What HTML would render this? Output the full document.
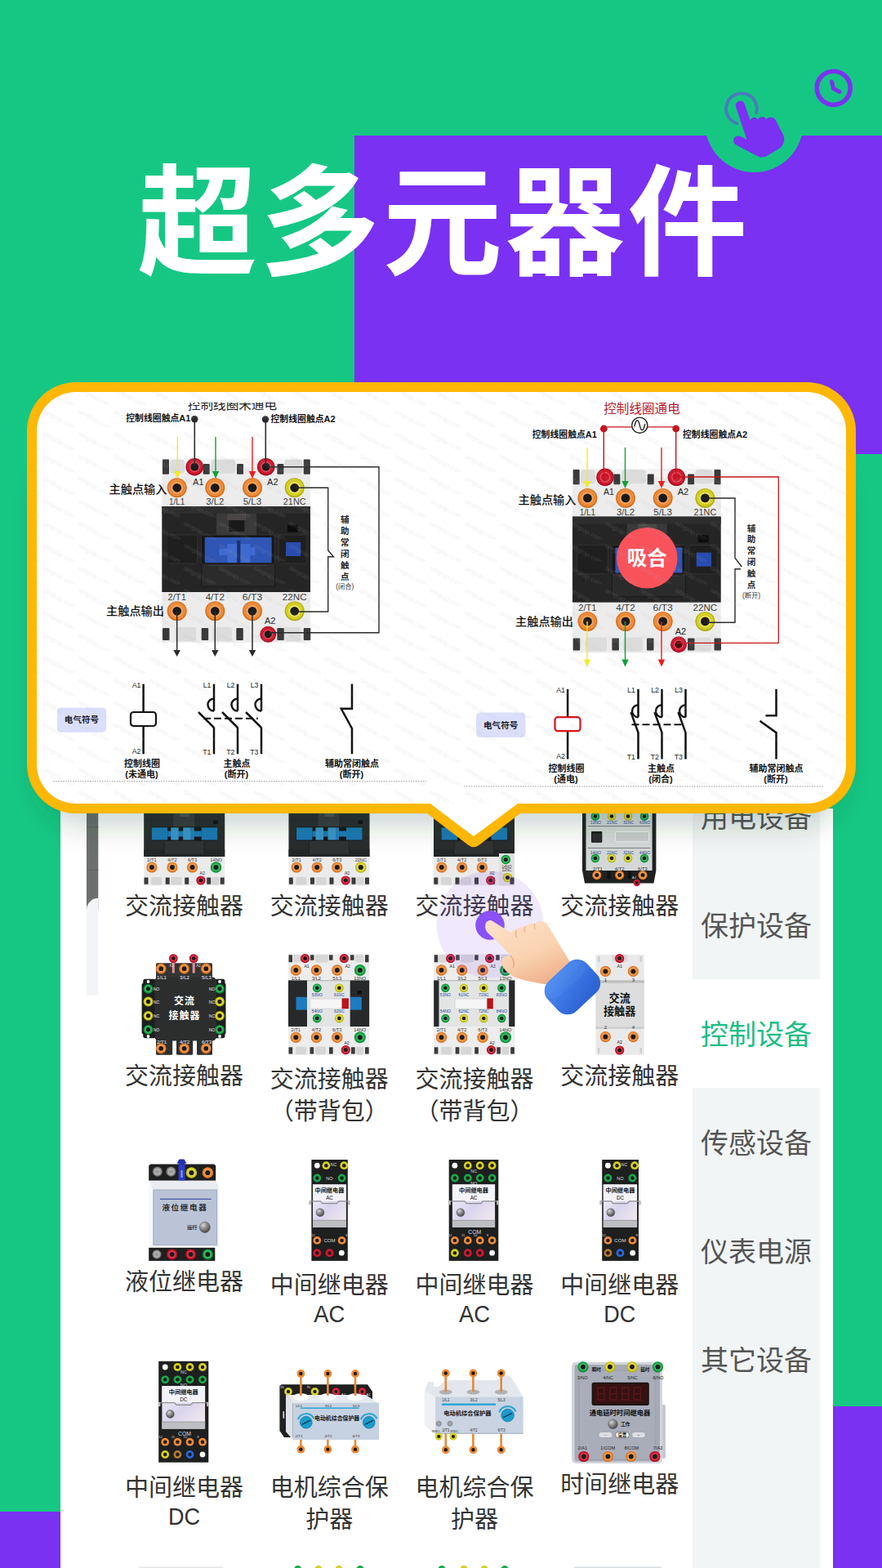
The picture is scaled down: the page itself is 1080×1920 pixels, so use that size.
<!DOCTYPE html>
<html lang="zh"><head><meta charset="utf-8"><title>超多元器件</title>
<style>
html,body{margin:0;padding:0;background:#16C784;}
body{width:1080px;height:1920px;overflow:hidden;font-family:"Liberation Sans","Noto Sans CJK SC",sans-serif;}
svg{display:block}
svg text{font-family:"Liberation Sans","Noto Sans CJK SC",sans-serif;}
</style></head><body>
<svg width="1080" height="1920" viewBox="0 0 1080 1920">
<defs>

<radialGradient id="gball" cx="0.35" cy="0.3" r="0.8"><stop offset="0" stop-color="#d8d8d8"/><stop offset="0.45" stop-color="#8a8a8a"/><stop offset="1" stop-color="#3c3c3c"/></radialGradient>
<linearGradient id="grelay" x1="0" y1="0" x2="1" y2="1"><stop offset="0" stop-color="#f7f6fb"/><stop offset="0.5" stop-color="#d9d4ee"/><stop offset="1" stop-color="#f6eeee"/></linearGradient>
<linearGradient id="gcuff" x1="0" y1="0" x2="0.3" y2="1"><stop offset="0" stop-color="#5590F2"/><stop offset="0.5" stop-color="#3D79E6"/><stop offset="1" stop-color="#2F64D4"/></linearGradient>
<linearGradient id="gskin" x1="0.2" y1="0" x2="0.75" y2="1"><stop offset="0" stop-color="#FDE0C8"/><stop offset="0.55" stop-color="#FAD2B0"/><stop offset="1" stop-color="#EDAE86"/></linearGradient>
<filter id="fblur" x="-10%" y="-20%" width="120%" height="150%"><feGaussianBlur stdDeviation="17"/></filter>
<pattern id="wm" width="43" height="27.4" patternUnits="userSpaceOnUse" patternTransform="translate(8 3)"><text x="1" y="9" font-size="7.6" font-style="italic" fill="#B0B0B0" fill-opacity="0.2" transform="rotate(28 1 9)">simgrap.com</text></pattern>
</defs>
<rect width="1080" height="1920" fill="#16C784"/>
<rect x="434" y="166" width="646" height="390" fill="#7A31F2"/>
<rect x="1020" y="1722" width="60" height="198" fill="#7A31F2"/>
<rect x="0" y="1851" width="75" height="69" fill="#7A31F2"/>
<circle cx="923.5" cy="151" r="60" fill="#16C784"/>
<circle cx="1020.7" cy="107.8" r="20.5" fill="none" stroke="#7A31F2" stroke-width="5.6"/>
<path d="M1018.5 100 L1020.5 108.5 L1028 112.5" fill="none" stroke="#7A31F2" stroke-width="5" stroke-linecap="round" stroke-linejoin="round"/>
<path d="M902.2 151.1 A18.9 18.9 0 1 1 926.2 138.2" fill="none" stroke="#7A31F2" stroke-opacity="0.5" stroke-width="4" stroke-linecap="round"/>
<path d="M900.9 130.5 A5.7 5.7 0 0 1 911.8 127.2 L918.6 147.5 C919.5 143.5 925.5 142 928 146.5 C929.5 142.5 936 141.5 938.5 146 C940.5 142.5 947.5 142.5 950 147.5 L959.5 166 C961.5 172 959.5 178 954 182 L938 191.5 C934 193 931 193 927 191 L901.5 177.5 C897.5 175.5 897 170 900.5 167.5 C903 165.5 906.5 166.5 909 168 L914.5 171 Z" fill="#7A31F2"/>
<text x="168.2" y="324.6" font-size="146.5" font-weight="bold" letter-spacing="3.6" fill="#fff">超多元器件</text>
<rect x="74" y="990" width="946" height="930" fill="#fff"/>
<rect x="848" y="990" width="156" height="930" fill="#F2F5F5"/>
<rect x="848" y="1199" width="156" height="133" fill="#fff"/>
<rect x="106" y="990" width="14.3" height="124" fill="#6B6F6E"/>
<rect x="106" y="1012" width="14.3" height="1" fill="#5d6160"/><rect x="106" y="1065" width="14.3" height="1" fill="#5d6160"/>
<path d="M106 1218.5 V1114 A14.3 14.3 0 0 1 120.3 1099.7 V1218.5 Z" fill="#F1F5F7"/>
<text x="858" y="1013" font-size="34" fill="#555">用电设备</text>
<text x="858" y="1146" font-size="34" fill="#555">保护设备</text>
<text x="858" y="1279" font-size="34" fill="#1CBD84">控制设备</text>
<text x="858" y="1412" font-size="34" fill="#555">传感设备</text>
<text x="858" y="1545" font-size="34" fill="#555">仪表电源</text>
<text x="858" y="1678" font-size="34" fill="#555">其它设备</text>
<rect x="176.2" y="990.0" width="99.0" height="94.3" fill="#EBEBEB" /><rect x="176.2" y="990.0" width="99.0" height="59.0" fill="#2A2D2D" /><rect x="176.2" y="1040.0" width="99.0" height="9.0" fill="#232626" /><rect x="185.2" y="1012.5" width="81.0" height="17.0" fill="#161819" /><rect x="185.7" y="1013.3" width="19.5" height="15.2" fill="#1C7AB6" /><rect x="246.7" y="1013.3" width="19.5" height="15.2" fill="#1C7AB6" /><rect x="205.2" y="1017.5" width="41.5" height="7.0" fill="#1C7AB6" /><rect x="209.2" y="1013.3" width="9.5" height="15.2" fill="#3C95CC" /><rect x="224.2" y="1013.3" width="9.5" height="15.2" fill="#3C95CC" /><rect x="233.7" y="1013.3" width="4.0" height="15.2" fill="#2180BC" /><rect x="212.2" y="990.0" width="26.0" height="22.0" fill="#3A3D3D" /><rect x="220.2" y="996.0" width="12.0" height="4.0" fill="#505353" /><rect x="261.2" y="1004.5" width="5.5" height="4.5" fill="#111" /><rect x="201.2" y="1029.5" width="49.0" height="17.0" fill="#303333" rx="1.5" stroke="#1c1e1e" stroke-width="0.8"/><circle cx="185.9" cy="1062.0" r="6.6" fill="#D66F1C"/><circle cx="185.9" cy="1061.7" r="5.8" fill="#EC8A38"/><circle cx="185.9" cy="1062.0" r="4.0" fill="#F4A560"/><circle cx="185.9" cy="1062.0" r="3.0" fill="#1d1a1a"/><circle cx="210.9" cy="1062.0" r="6.6" fill="#D66F1C"/><circle cx="210.9" cy="1061.7" r="5.8" fill="#EC8A38"/><circle cx="210.9" cy="1062.0" r="4.0" fill="#F4A560"/><circle cx="210.9" cy="1062.0" r="3.0" fill="#1d1a1a"/><circle cx="235.5" cy="1062.0" r="6.6" fill="#D66F1C"/><circle cx="235.5" cy="1061.7" r="5.8" fill="#EC8A38"/><circle cx="235.5" cy="1062.0" r="4.0" fill="#F4A560"/><circle cx="235.5" cy="1062.0" r="3.0" fill="#1d1a1a"/><circle cx="264.5" cy="1062.0" r="6.8" fill="#0C8432"/><circle cx="264.5" cy="1061.7" r="6.0" fill="#1AA848"/><circle cx="264.5" cy="1062.0" r="4.1" fill="#4CC876"/><circle cx="264.5" cy="1062.0" r="3.1" fill="#1d1a1a"/><text x="264.5" y="1055.3" font-size="5.6" fill="#333" text-anchor="middle" >14NO</text><text x="185.9" y="1055.3" font-size="5.6" fill="#333" text-anchor="middle" >2/T1</text><text x="210.9" y="1055.3" font-size="5.6" fill="#333" text-anchor="middle" >4/T2</text><text x="235.5" y="1055.3" font-size="5.6" fill="#333" text-anchor="middle" >6/T3</text><rect x="176.5" y="1074.5" width="5.0" height="8.3" fill="#3A3A3A" rx="0.5" /><rect x="202.7" y="1074.5" width="5.0" height="8.3" fill="#3A3A3A" rx="0.5" /><rect x="226.2" y="1074.5" width="5.0" height="8.3" fill="#3A3A3A" rx="0.5" /><rect x="253.2" y="1074.5" width="5.0" height="8.3" fill="#3A3A3A" rx="0.5" /><rect x="269.7" y="1074.5" width="5.0" height="8.3" fill="#3A3A3A" rx="0.5" /><rect x="185.2" y="1074.0" width="13.0" height="9.5" fill="#D6D6D6" rx="1.5" /><rect x="209.2" y="1074.0" width="13.0" height="9.5" fill="#D6D6D6" rx="1.5" /><rect x="259.2" y="1074.0" width="9.0" height="9.5" fill="#D6D6D6" rx="1.5" /><circle cx="245.9" cy="1078.0" r="5.6" fill="#A80C20"/><circle cx="245.9" cy="1077.8" r="4.9" fill="#CF1A30"/><circle cx="245.9" cy="1078.0" r="3.4" fill="#E04A5C"/><circle cx="245.9" cy="1078.0" r="2.5" fill="#1d1a1a"/><text x="247.7" y="1071.2" font-size="5.1" fill="#222" text-anchor="middle" >A2</text><rect x="353.5" y="990.0" width="99.0" height="94.3" fill="#EBEBEB" /><rect x="353.5" y="990.0" width="99.0" height="59.0" fill="#2A2D2D" /><rect x="353.5" y="1040.0" width="99.0" height="9.0" fill="#232626" /><rect x="362.5" y="1012.5" width="81.0" height="17.0" fill="#161819" /><rect x="363.0" y="1013.3" width="19.5" height="15.2" fill="#1C7AB6" /><rect x="424.0" y="1013.3" width="19.5" height="15.2" fill="#1C7AB6" /><rect x="382.5" y="1017.5" width="41.5" height="7.0" fill="#1C7AB6" /><rect x="386.5" y="1013.3" width="9.5" height="15.2" fill="#3C95CC" /><rect x="401.5" y="1013.3" width="9.5" height="15.2" fill="#3C95CC" /><rect x="411.0" y="1013.3" width="4.0" height="15.2" fill="#2180BC" /><rect x="389.5" y="990.0" width="26.0" height="22.0" fill="#3A3D3D" /><rect x="397.5" y="996.0" width="12.0" height="4.0" fill="#505353" /><rect x="438.5" y="1004.5" width="5.5" height="4.5" fill="#111" /><rect x="378.5" y="1029.5" width="49.0" height="17.0" fill="#303333" rx="1.5" stroke="#1c1e1e" stroke-width="0.8"/><circle cx="363.2" cy="1062.0" r="6.6" fill="#D66F1C"/><circle cx="363.2" cy="1061.7" r="5.8" fill="#EC8A38"/><circle cx="363.2" cy="1062.0" r="4.0" fill="#F4A560"/><circle cx="363.2" cy="1062.0" r="3.0" fill="#1d1a1a"/><circle cx="388.2" cy="1062.0" r="6.6" fill="#D66F1C"/><circle cx="388.2" cy="1061.7" r="5.8" fill="#EC8A38"/><circle cx="388.2" cy="1062.0" r="4.0" fill="#F4A560"/><circle cx="388.2" cy="1062.0" r="3.0" fill="#1d1a1a"/><circle cx="412.8" cy="1062.0" r="6.6" fill="#D66F1C"/><circle cx="412.8" cy="1061.7" r="5.8" fill="#EC8A38"/><circle cx="412.8" cy="1062.0" r="4.0" fill="#F4A560"/><circle cx="412.8" cy="1062.0" r="3.0" fill="#1d1a1a"/><circle cx="441.8" cy="1062.0" r="6.8" fill="#B3AE10"/><circle cx="441.8" cy="1061.7" r="6.0" fill="#D4CF22"/><circle cx="441.8" cy="1062.0" r="4.1" fill="#E9E562"/><circle cx="441.8" cy="1062.0" r="3.1" fill="#1d1a1a"/><text x="441.8" y="1055.3" font-size="5.6" fill="#333" text-anchor="middle" >22NC</text><text x="363.2" y="1055.3" font-size="5.6" fill="#333" text-anchor="middle" >2/T1</text><text x="388.2" y="1055.3" font-size="5.6" fill="#333" text-anchor="middle" >4/T2</text><text x="412.8" y="1055.3" font-size="5.6" fill="#333" text-anchor="middle" >6/T3</text><rect x="353.8" y="1074.5" width="5.0" height="8.3" fill="#3A3A3A" rx="0.5" /><rect x="380.0" y="1074.5" width="5.0" height="8.3" fill="#3A3A3A" rx="0.5" /><rect x="403.5" y="1074.5" width="5.0" height="8.3" fill="#3A3A3A" rx="0.5" /><rect x="430.5" y="1074.5" width="5.0" height="8.3" fill="#3A3A3A" rx="0.5" /><rect x="447.0" y="1074.5" width="5.0" height="8.3" fill="#3A3A3A" rx="0.5" /><rect x="362.5" y="1074.0" width="13.0" height="9.5" fill="#D6D6D6" rx="1.5" /><rect x="386.5" y="1074.0" width="13.0" height="9.5" fill="#D6D6D6" rx="1.5" /><rect x="436.5" y="1074.0" width="9.0" height="9.5" fill="#D6D6D6" rx="1.5" /><circle cx="423.2" cy="1078.0" r="5.6" fill="#A80C20"/><circle cx="423.2" cy="1077.8" r="4.9" fill="#CF1A30"/><circle cx="423.2" cy="1078.0" r="3.4" fill="#E04A5C"/><circle cx="423.2" cy="1078.0" r="2.5" fill="#1d1a1a"/><text x="425.0" y="1071.2" font-size="5.1" fill="#222" text-anchor="middle" >A2</text><rect x="531.0" y="990.0" width="99.0" height="94.3" fill="#EBEBEB" /><rect x="531.0" y="990.0" width="99.0" height="59.0" fill="#2A2D2D" /><rect x="531.0" y="1040.0" width="99.0" height="9.0" fill="#232626" /><rect x="540.0" y="1012.5" width="81.0" height="17.0" fill="#161819" /><rect x="540.5" y="1013.3" width="19.5" height="15.2" fill="#1C7AB6" /><rect x="601.5" y="1013.3" width="19.5" height="15.2" fill="#1C7AB6" /><rect x="560.0" y="1017.5" width="41.5" height="7.0" fill="#1C7AB6" /><rect x="564.0" y="1013.3" width="9.5" height="15.2" fill="#3C95CC" /><rect x="579.0" y="1013.3" width="9.5" height="15.2" fill="#3C95CC" /><rect x="588.5" y="1013.3" width="4.0" height="15.2" fill="#2180BC" /><rect x="567.0" y="990.0" width="26.0" height="22.0" fill="#3A3D3D" /><rect x="575.0" y="996.0" width="12.0" height="4.0" fill="#505353" /><rect x="616.0" y="1004.5" width="5.5" height="4.5" fill="#111" /><rect x="556.0" y="1029.5" width="49.0" height="17.0" fill="#303333" rx="1.5" stroke="#1c1e1e" stroke-width="0.8"/><rect x="611.0" y="1045.0" width="19.0" height="39.3" fill="#E0E0E0" /><circle cx="540.7" cy="1062.0" r="6.6" fill="#D66F1C"/><circle cx="540.7" cy="1061.7" r="5.8" fill="#EC8A38"/><circle cx="540.7" cy="1062.0" r="4.0" fill="#F4A560"/><circle cx="540.7" cy="1062.0" r="3.0" fill="#1d1a1a"/><circle cx="565.7" cy="1062.0" r="6.6" fill="#D66F1C"/><circle cx="565.7" cy="1061.7" r="5.8" fill="#EC8A38"/><circle cx="565.7" cy="1062.0" r="4.0" fill="#F4A560"/><circle cx="565.7" cy="1062.0" r="3.0" fill="#1d1a1a"/><circle cx="590.3" cy="1062.0" r="6.6" fill="#D66F1C"/><circle cx="590.3" cy="1061.7" r="5.8" fill="#EC8A38"/><circle cx="590.3" cy="1062.0" r="4.0" fill="#F4A560"/><circle cx="590.3" cy="1062.0" r="3.0" fill="#1d1a1a"/><circle cx="619.3" cy="1052.5" r="5.8" fill="#0C8432"/><circle cx="619.3" cy="1052.3" r="5.1" fill="#1AA848"/><circle cx="619.3" cy="1052.5" r="3.5" fill="#4CC876"/><circle cx="619.3" cy="1052.5" r="2.6" fill="#1d1a1a"/><circle cx="621.5" cy="1074.5" r="5.8" fill="#B3AE10"/><circle cx="621.5" cy="1074.3" r="5.1" fill="#D4CF22"/><circle cx="621.5" cy="1074.5" r="3.5" fill="#E9E562"/><circle cx="621.5" cy="1074.5" r="2.6" fill="#1d1a1a"/><text x="620.5" y="1062.9" font-size="4.6" fill="#333" text-anchor="middle" >14NO</text><text x="620.5" y="1067.4" font-size="4.6" fill="#333" text-anchor="middle" >22NC</text><text x="540.7" y="1055.3" font-size="5.6" fill="#333" text-anchor="middle" >2/T1</text><text x="565.7" y="1055.3" font-size="5.6" fill="#333" text-anchor="middle" >4/T2</text><text x="590.3" y="1055.3" font-size="5.6" fill="#333" text-anchor="middle" >6/T3</text><rect x="531.3" y="1074.5" width="5.0" height="8.3" fill="#3A3A3A" rx="0.5" /><rect x="557.5" y="1074.5" width="5.0" height="8.3" fill="#3A3A3A" rx="0.5" /><rect x="581.0" y="1074.5" width="5.0" height="8.3" fill="#3A3A3A" rx="0.5" /><rect x="601.0" y="1074.5" width="5.0" height="8.3" fill="#3A3A3A" rx="0.5" /><rect x="624.5" y="1074.5" width="5.0" height="8.3" fill="#3A3A3A" rx="0.5" /><rect x="540.0" y="1074.0" width="13.0" height="9.5" fill="#D6D6D6" rx="1.5" /><rect x="564.0" y="1074.0" width="13.0" height="9.5" fill="#D6D6D6" rx="1.5" /><circle cx="600.7" cy="1078.0" r="5.6" fill="#A80C20"/><circle cx="600.7" cy="1077.8" r="4.9" fill="#CF1A30"/><circle cx="600.7" cy="1078.0" r="3.4" fill="#E04A5C"/><circle cx="600.7" cy="1078.0" r="2.5" fill="#1d1a1a"/><text x="602.5" y="1071.2" font-size="5.1" fill="#222" text-anchor="middle" >A2</text><path d="M713 990 H803.4 V1066 L800.5 1081.6 H716 L713 1066 Z" fill="#1f2121"/><rect x="717.5" y="990.0" width="81.1" height="76.0" fill="#D3D7D7" /><line x1="720.0" y1="1011.6" x2="796.5" y2="1011.6" stroke="#6d7272" stroke-width="0.90" /><line x1="720.0" y1="1038.4" x2="796.5" y2="1038.4" stroke="#6d7272" stroke-width="0.90" /><circle cx="728.9" cy="999.6" r="5.3" fill="#0C8432"/><circle cx="728.9" cy="999.4" r="4.7" fill="#1AA848"/><circle cx="728.9" cy="999.6" r="3.2" fill="#4CC876"/><circle cx="728.9" cy="999.6" r="2.4" fill="#1d1a1a"/><circle cx="728.9" cy="1050.9" r="5.3" fill="#0C8432"/><circle cx="728.9" cy="1050.7" r="4.7" fill="#1AA848"/><circle cx="728.9" cy="1050.9" r="3.2" fill="#4CC876"/><circle cx="728.9" cy="1050.9" r="2.4" fill="#1d1a1a"/><circle cx="749.0" cy="999.6" r="5.3" fill="#B3AE10"/><circle cx="749.0" cy="999.4" r="4.7" fill="#D4CF22"/><circle cx="749.0" cy="999.6" r="3.2" fill="#E9E562"/><circle cx="749.0" cy="999.6" r="2.4" fill="#1d1a1a"/><circle cx="749.0" cy="1050.9" r="5.3" fill="#B3AE10"/><circle cx="749.0" cy="1050.7" r="4.7" fill="#D4CF22"/><circle cx="749.0" cy="1050.9" r="3.2" fill="#E9E562"/><circle cx="749.0" cy="1050.9" r="2.4" fill="#1d1a1a"/><circle cx="769.0" cy="999.6" r="5.3" fill="#B3AE10"/><circle cx="769.0" cy="999.4" r="4.7" fill="#D4CF22"/><circle cx="769.0" cy="999.6" r="3.2" fill="#E9E562"/><circle cx="769.0" cy="999.6" r="2.4" fill="#1d1a1a"/><circle cx="769.0" cy="1050.9" r="5.3" fill="#B3AE10"/><circle cx="769.0" cy="1050.7" r="4.7" fill="#D4CF22"/><circle cx="769.0" cy="1050.9" r="3.2" fill="#E9E562"/><circle cx="769.0" cy="1050.9" r="2.4" fill="#1d1a1a"/><circle cx="789.0" cy="999.6" r="5.3" fill="#0C8432"/><circle cx="789.0" cy="999.4" r="4.7" fill="#1AA848"/><circle cx="789.0" cy="999.6" r="3.2" fill="#4CC876"/><circle cx="789.0" cy="999.6" r="2.4" fill="#1d1a1a"/><circle cx="789.0" cy="1050.9" r="5.3" fill="#0C8432"/><circle cx="789.0" cy="1050.7" r="4.7" fill="#1AA848"/><circle cx="789.0" cy="1050.9" r="3.2" fill="#4CC876"/><circle cx="789.0" cy="1050.9" r="2.4" fill="#1d1a1a"/><text x="729.4" y="1009.1" font-size="5.1" fill="#2A4E8F" text-anchor="middle" >13NO</text><text x="729.4" y="1046.0" font-size="5.1" fill="#2A4E8F" text-anchor="middle" >14NO</text><text x="749.5" y="1009.1" font-size="5.1" fill="#2A4E8F" text-anchor="middle" >21NC</text><text x="749.5" y="1046.0" font-size="5.1" fill="#2A4E8F" text-anchor="middle" >22NC</text><text x="769.5" y="1009.1" font-size="5.1" fill="#2A4E8F" text-anchor="middle" >31NC</text><text x="769.5" y="1046.0" font-size="5.1" fill="#2A4E8F" text-anchor="middle" >32NC</text><text x="789.5" y="1009.1" font-size="5.1" fill="#2A4E8F" text-anchor="middle" >43NO</text><text x="789.5" y="1046.0" font-size="5.1" fill="#2A4E8F" text-anchor="middle" >44NO</text><rect x="724.0" y="1018.0" width="13.3" height="13.7" fill="#1b1b1b" rx="1.2" /><rect x="725.2" y="1021.0" width="11.0" height="9.5" fill="#2e2e2e" rx="0.8" /><rect x="753.5" y="1018.4" width="41.2" height="12.0" fill="#C6CBCA" rx="1.0" stroke="#eef0f0" stroke-width="1"/><text x="732.0" y="1065.8" font-size="5.9" fill="#333" text-anchor="middle" >2/T1</text><text x="758.7" y="1065.8" font-size="5.9" fill="#333" text-anchor="middle" >4/T2</text><text x="787.0" y="1065.8" font-size="5.9" fill="#333" text-anchor="middle" >6/T3</text><rect x="743.5" y="1067.0" width="4.0" height="9.0" fill="#111" /><rect x="769.0" y="1067.0" width="4.0" height="9.0" fill="#111" /><circle cx="730.8" cy="1071.6" r="5.6" fill="#D66F1C"/><circle cx="730.8" cy="1071.4" r="4.9" fill="#EC8A38"/><circle cx="730.8" cy="1071.6" r="3.4" fill="#F4A560"/><circle cx="730.8" cy="1071.6" r="2.5" fill="#1d1a1a"/><circle cx="758.7" cy="1071.6" r="5.6" fill="#D66F1C"/><circle cx="758.7" cy="1071.4" r="4.9" fill="#EC8A38"/><circle cx="758.7" cy="1071.6" r="3.4" fill="#F4A560"/><circle cx="758.7" cy="1071.6" r="2.5" fill="#1d1a1a"/><circle cx="787.0" cy="1071.6" r="5.6" fill="#D66F1C"/><circle cx="787.0" cy="1071.4" r="4.9" fill="#EC8A38"/><circle cx="787.0" cy="1071.6" r="3.4" fill="#F4A560"/><circle cx="787.0" cy="1071.6" r="2.5" fill="#1d1a1a"/><text x="776.5" y="1075.9" font-size="4.4" fill="#ccc" text-anchor="middle" >A2</text><circle cx="779.8" cy="1081.0" r="4.2" fill="#CF1A30"/><circle cx="779.8" cy="1081.0" r="1.9" fill="#1d1a1a"/>
<text x="153" y="1120" font-size="29" fill="#333">交流接触器</text>
<text x="330.8" y="1120" font-size="29" fill="#333">交流接触器</text>
<text x="508.5" y="1120" font-size="29" fill="#333">交流接触器</text>
<text x="686.2" y="1120" font-size="29" fill="#333">交流接触器</text>
<rect x="191.0" y="1179.3" width="69.0" height="20.0" fill="#333535" rx="1.5" /><rect x="210.8" y="1176.0" width="3.0" height="15.5" fill="#E58E95" /><rect x="235.7" y="1176.0" width="3.0" height="15.5" fill="#E58E95" /><rect x="191.0" y="1272.0" width="20.2" height="19.7" fill="#2e3030" rx="1.5" /><rect x="216.0" y="1272.0" width="20.2" height="19.7" fill="#2e3030" rx="1.5" /><rect x="241.0" y="1272.0" width="19.0" height="19.7" fill="#2e3030" rx="1.5" /><rect x="175.2" y="1198.8" width="16.0" height="72.5" fill="#1d1f1f" rx="3.0" /><rect x="263.0" y="1198.8" width="12.5" height="72.5" fill="#1d1f1f" rx="3.0" /><rect x="272.5" y="1204.0" width="4.0" height="62.0" fill="#1d1f1f" rx="1.5" /><rect x="173.6" y="1204.0" width="4.0" height="62.0" fill="#1d1f1f" rx="1.5" /><rect x="189.4" y="1196.6" width="75.6" height="77.8" fill="#2C2E2E" rx="5.0" /><circle cx="181.5" cy="1202.0" r="1.9" fill="#fff"/><circle cx="181.5" cy="1269.0" r="1.9" fill="#fff"/><circle cx="269.0" cy="1202.0" r="1.9" fill="#fff"/><circle cx="269.0" cy="1269.0" r="1.9" fill="#fff"/><circle cx="181.5" cy="1210.8" r="5.9" fill="#0C8432"/><circle cx="181.5" cy="1210.6" r="5.2" fill="#1AA848"/><circle cx="181.5" cy="1210.8" r="3.5" fill="#4CC876"/><circle cx="181.5" cy="1210.8" r="2.7" fill="#1d1a1a"/><circle cx="269.0" cy="1210.8" r="5.9" fill="#0C8432"/><circle cx="269.0" cy="1210.6" r="5.2" fill="#1AA848"/><circle cx="269.0" cy="1210.8" r="3.5" fill="#4CC876"/><circle cx="269.0" cy="1210.8" r="2.7" fill="#1d1a1a"/><text x="191.5" y="1212.8" font-size="5.1" fill="#eee" text-anchor="middle" >NO</text><text x="259.5" y="1212.8" font-size="5.1" fill="#eee" text-anchor="middle" >NO</text><circle cx="181.5" cy="1226.5" r="5.9" fill="#B3AE10"/><circle cx="181.5" cy="1226.3" r="5.2" fill="#D4CF22"/><circle cx="181.5" cy="1226.5" r="3.5" fill="#E9E562"/><circle cx="181.5" cy="1226.5" r="2.7" fill="#1d1a1a"/><circle cx="269.0" cy="1226.5" r="5.9" fill="#B3AE10"/><circle cx="269.0" cy="1226.3" r="5.2" fill="#D4CF22"/><circle cx="269.0" cy="1226.5" r="3.5" fill="#E9E562"/><circle cx="269.0" cy="1226.5" r="2.7" fill="#1d1a1a"/><text x="191.5" y="1228.5" font-size="5.1" fill="#eee" text-anchor="middle" >NC</text><text x="259.5" y="1228.5" font-size="5.1" fill="#eee" text-anchor="middle" >NC</text><circle cx="181.5" cy="1243.8" r="5.9" fill="#B3AE10"/><circle cx="181.5" cy="1243.6" r="5.2" fill="#D4CF22"/><circle cx="181.5" cy="1243.8" r="3.5" fill="#E9E562"/><circle cx="181.5" cy="1243.8" r="2.7" fill="#1d1a1a"/><circle cx="269.0" cy="1243.8" r="5.9" fill="#B3AE10"/><circle cx="269.0" cy="1243.6" r="5.2" fill="#D4CF22"/><circle cx="269.0" cy="1243.8" r="3.5" fill="#E9E562"/><circle cx="269.0" cy="1243.8" r="2.7" fill="#1d1a1a"/><text x="191.5" y="1245.8" font-size="5.1" fill="#eee" text-anchor="middle" >NC</text><text x="259.5" y="1245.8" font-size="5.1" fill="#eee" text-anchor="middle" >NC</text><circle cx="181.5" cy="1260.8" r="5.9" fill="#0C8432"/><circle cx="181.5" cy="1260.6" r="5.2" fill="#1AA848"/><circle cx="181.5" cy="1260.8" r="3.5" fill="#4CC876"/><circle cx="181.5" cy="1260.8" r="2.7" fill="#1d1a1a"/><circle cx="269.0" cy="1260.8" r="5.9" fill="#0C8432"/><circle cx="269.0" cy="1260.6" r="5.2" fill="#1AA848"/><circle cx="269.0" cy="1260.8" r="3.5" fill="#4CC876"/><circle cx="269.0" cy="1260.8" r="2.7" fill="#1d1a1a"/><text x="191.5" y="1262.8" font-size="5.1" fill="#eee" text-anchor="middle" >NO</text><text x="259.5" y="1262.8" font-size="5.1" fill="#eee" text-anchor="middle" >NO</text><circle cx="197.2" cy="1186.2" r="6.4" fill="#D66F1C"/><circle cx="197.2" cy="1185.9" r="5.6" fill="#EC8A38"/><circle cx="197.2" cy="1186.2" r="3.8" fill="#F4A560"/><circle cx="197.2" cy="1186.2" r="2.9" fill="#1d1a1a"/><circle cx="197.2" cy="1283.8" r="6.4" fill="#D66F1C"/><circle cx="197.2" cy="1283.5" r="5.6" fill="#EC8A38"/><circle cx="197.2" cy="1283.8" r="3.8" fill="#F4A560"/><circle cx="197.2" cy="1283.8" r="2.9" fill="#1d1a1a"/><circle cx="225.6" cy="1186.2" r="6.4" fill="#D66F1C"/><circle cx="225.6" cy="1185.9" r="5.6" fill="#EC8A38"/><circle cx="225.6" cy="1186.2" r="3.8" fill="#F4A560"/><circle cx="225.6" cy="1186.2" r="2.9" fill="#1d1a1a"/><circle cx="225.6" cy="1283.8" r="6.4" fill="#D66F1C"/><circle cx="225.6" cy="1283.5" r="5.6" fill="#EC8A38"/><circle cx="225.6" cy="1283.8" r="3.8" fill="#F4A560"/><circle cx="225.6" cy="1283.8" r="2.9" fill="#1d1a1a"/><circle cx="252.3" cy="1186.2" r="6.4" fill="#D66F1C"/><circle cx="252.3" cy="1185.9" r="5.6" fill="#EC8A38"/><circle cx="252.3" cy="1186.2" r="3.8" fill="#F4A560"/><circle cx="252.3" cy="1186.2" r="2.9" fill="#1d1a1a"/><circle cx="252.3" cy="1283.8" r="6.4" fill="#D66F1C"/><circle cx="252.3" cy="1283.5" r="5.6" fill="#EC8A38"/><circle cx="252.3" cy="1283.8" r="3.8" fill="#F4A560"/><circle cx="252.3" cy="1283.8" r="2.9" fill="#1d1a1a"/><circle cx="212.3" cy="1173.6" r="5.4" fill="#A80C20"/><circle cx="212.3" cy="1173.4" r="4.8" fill="#CF1A30"/><circle cx="212.3" cy="1173.6" r="3.2" fill="#E04A5C"/><circle cx="212.3" cy="1173.6" r="2.4" fill="#1d1a1a"/><circle cx="237.2" cy="1173.6" r="5.4" fill="#A80C20"/><circle cx="237.2" cy="1173.4" r="4.8" fill="#CF1A30"/><circle cx="237.2" cy="1173.6" r="3.2" fill="#E04A5C"/><circle cx="237.2" cy="1173.6" r="2.4" fill="#1d1a1a"/><text x="210.0" y="1184.4" font-size="4.6" fill="#ddd" text-anchor="middle" >A1</text><text x="243.0" y="1184.4" font-size="4.6" fill="#ddd" text-anchor="middle" >A2</text><text x="198.0" y="1198.7" font-size="6.1" fill="#f0f0f0" text-anchor="middle" >1/L1</text><text x="198.0" y="1277.7" font-size="6.1" fill="#f0f0f0" text-anchor="middle" >2/T1</text><text x="226.0" y="1198.7" font-size="6.1" fill="#f0f0f0" text-anchor="middle" >3/L2</text><text x="226.0" y="1277.7" font-size="6.1" fill="#f0f0f0" text-anchor="middle" >4/T2</text><text x="253.0" y="1198.7" font-size="6.1" fill="#f0f0f0" text-anchor="middle" >5/L3</text><text x="253.0" y="1277.7" font-size="6.1" fill="#f0f0f0" text-anchor="middle" >6/T3</text>
<text x="213.1" y="1230" font-size="12" font-weight="bold" letter-spacing="1" fill="#fff">交流</text>
<text x="206.6" y="1248.3" font-size="12" font-weight="bold" letter-spacing="1" fill="#fff">接触器</text>
<rect x="353.0" y="1168.3" width="99.2" height="123.4" fill="#EDEDED" /><rect x="353.5" y="1169.3" width="4.5" height="9.0" fill="#3b3b3b" rx="0.5" /><rect x="380.0" y="1169.3" width="4.5" height="6.5" fill="#3b3b3b" rx="0.5" /><rect x="403.0" y="1169.3" width="4.5" height="6.5" fill="#3b3b3b" rx="0.5" /><rect x="429.0" y="1169.3" width="4.5" height="6.5" fill="#3b3b3b" rx="0.5" /><rect x="447.0" y="1169.3" width="4.5" height="9.0" fill="#3b3b3b" rx="0.5" /><rect x="359.0" y="1168.9" width="10.0" height="9.5" fill="#D8D8D8" rx="2.0" /><rect x="386.0" y="1168.9" width="16.0" height="9.5" fill="#D8D8D8" rx="2.0" /><rect x="435.0" y="1168.9" width="10.0" height="9.5" fill="#D8D8D8" rx="2.0" /><rect x="353.5" y="1282.3" width="4.7" height="8.3" fill="#3b3b3b" rx="0.5" /><rect x="379.5" y="1282.3" width="4.7" height="8.3" fill="#3b3b3b" rx="0.5" /><rect x="403.0" y="1282.3" width="4.7" height="8.3" fill="#3b3b3b" rx="0.5" /><rect x="430.0" y="1282.3" width="4.7" height="8.3" fill="#3b3b3b" rx="0.5" /><rect x="447.0" y="1282.3" width="4.7" height="8.3" fill="#3b3b3b" rx="0.5" /><rect x="362.0" y="1281.8" width="13.0" height="9.5" fill="#D6D6D6" rx="1.5" /><rect x="386.0" y="1281.8" width="13.0" height="9.5" fill="#D6D6D6" rx="1.5" /><rect x="436.0" y="1281.8" width="9.0" height="9.5" fill="#D6D6D6" rx="1.5" /><rect x="353.0" y="1200.4" width="99.2" height="56.6" fill="#27292a" /><rect x="362.5" y="1220.8" width="13.5" height="15.8" fill="#1E7CBF" /><rect x="428.7" y="1220.8" width="14.1" height="15.8" fill="#1E7CBF" /><rect x="437.5" y="1213.0" width="5.5" height="4.5" fill="#111" /><rect x="376.0" y="1200.4" width="52.7" height="56.6" fill="#E3E4E4" /><rect x="376.0" y="1200.4" width="52.7" height="1.2" fill="#c9c9c9" /><circle cx="388.3" cy="1209.8" r="5.4" fill="#0C8432"/><circle cx="388.3" cy="1209.6" r="4.8" fill="#1AA848"/><circle cx="388.3" cy="1209.8" r="3.2" fill="#4CC876"/><circle cx="388.3" cy="1209.8" r="2.4" fill="#1d1a1a"/><circle cx="388.3" cy="1247.0" r="5.4" fill="#0C8432"/><circle cx="388.3" cy="1246.8" r="4.8" fill="#1AA848"/><circle cx="388.3" cy="1247.0" r="3.2" fill="#4CC876"/><circle cx="388.3" cy="1247.0" r="2.4" fill="#1d1a1a"/><text x="388.3" y="1219.8" font-size="5.0" fill="#244a9a" text-anchor="middle" >53NO</text><text x="388.3" y="1239.9" font-size="5.0" fill="#244a9a" text-anchor="middle" >54NO</text><circle cx="415.4" cy="1209.8" r="5.4" fill="#B3AE10"/><circle cx="415.4" cy="1209.6" r="4.8" fill="#D4CF22"/><circle cx="415.4" cy="1209.8" r="3.2" fill="#E9E562"/><circle cx="415.4" cy="1209.8" r="2.4" fill="#1d1a1a"/><circle cx="415.4" cy="1247.0" r="5.4" fill="#B3AE10"/><circle cx="415.4" cy="1246.8" r="4.8" fill="#D4CF22"/><circle cx="415.4" cy="1247.0" r="3.2" fill="#E9E562"/><circle cx="415.4" cy="1247.0" r="2.4" fill="#1d1a1a"/><text x="415.4" y="1219.8" font-size="5.0" fill="#244a9a" text-anchor="middle" >61NC</text><text x="415.4" y="1239.9" font-size="5.0" fill="#244a9a" text-anchor="middle" >62NC</text><rect x="379.8" y="1223.0" width="39.4" height="12.2" fill="#F6F6F6" rx="1.0" stroke="#cfcfcf" stroke-width="0.8"/><rect x="418.6" y="1222.4" width="8.4" height="12.8" fill="#B8141A" /><circle cx="362.3" cy="1188.0" r="6.7" fill="#D66F1C"/><circle cx="362.3" cy="1187.7" r="5.9" fill="#EC8A38"/><circle cx="362.3" cy="1188.0" r="4.0" fill="#F4A560"/><circle cx="362.3" cy="1188.0" r="3.0" fill="#1d1a1a"/><circle cx="362.3" cy="1270.3" r="6.7" fill="#D66F1C"/><circle cx="362.3" cy="1270.0" r="5.9" fill="#EC8A38"/><circle cx="362.3" cy="1270.3" r="4.0" fill="#F4A560"/><circle cx="362.3" cy="1270.3" r="3.0" fill="#1d1a1a"/><circle cx="387.5" cy="1188.0" r="6.7" fill="#D66F1C"/><circle cx="387.5" cy="1187.7" r="5.9" fill="#EC8A38"/><circle cx="387.5" cy="1188.0" r="4.0" fill="#F4A560"/><circle cx="387.5" cy="1188.0" r="3.0" fill="#1d1a1a"/><circle cx="387.5" cy="1270.3" r="6.7" fill="#D66F1C"/><circle cx="387.5" cy="1270.0" r="5.9" fill="#EC8A38"/><circle cx="387.5" cy="1270.3" r="4.0" fill="#F4A560"/><circle cx="387.5" cy="1270.3" r="3.0" fill="#1d1a1a"/><circle cx="412.8" cy="1188.0" r="6.7" fill="#D66F1C"/><circle cx="412.8" cy="1187.7" r="5.9" fill="#EC8A38"/><circle cx="412.8" cy="1188.0" r="4.0" fill="#F4A560"/><circle cx="412.8" cy="1188.0" r="3.0" fill="#1d1a1a"/><circle cx="412.8" cy="1270.3" r="6.7" fill="#D66F1C"/><circle cx="412.8" cy="1270.0" r="5.9" fill="#EC8A38"/><circle cx="412.8" cy="1270.3" r="4.0" fill="#F4A560"/><circle cx="412.8" cy="1270.3" r="3.0" fill="#1d1a1a"/><circle cx="440.8" cy="1188.0" r="7.0" fill="#0C8432"/><circle cx="440.8" cy="1187.7" r="6.2" fill="#1AA848"/><circle cx="440.8" cy="1188.0" r="4.2" fill="#4CC876"/><circle cx="440.8" cy="1188.0" r="3.1" fill="#1d1a1a"/><circle cx="440.8" cy="1270.3" r="7.0" fill="#0C8432"/><circle cx="440.8" cy="1270.0" r="6.2" fill="#1AA848"/><circle cx="440.8" cy="1270.3" r="4.2" fill="#4CC876"/><circle cx="440.8" cy="1270.3" r="3.1" fill="#1d1a1a"/><circle cx="373.5" cy="1173.6" r="5.6" fill="#A80C20"/><circle cx="373.5" cy="1173.4" r="4.9" fill="#CF1A30"/><circle cx="373.5" cy="1173.6" r="3.4" fill="#E04A5C"/><circle cx="373.5" cy="1173.6" r="2.5" fill="#1d1a1a"/><circle cx="421.4" cy="1173.6" r="5.6" fill="#A80C20"/><circle cx="421.4" cy="1173.4" r="4.9" fill="#CF1A30"/><circle cx="421.4" cy="1173.6" r="3.4" fill="#E04A5C"/><circle cx="421.4" cy="1173.6" r="2.5" fill="#1d1a1a"/><circle cx="423.3" cy="1285.6" r="5.6" fill="#A80C20"/><circle cx="423.3" cy="1285.4" r="4.9" fill="#CF1A30"/><circle cx="423.3" cy="1285.6" r="3.4" fill="#E04A5C"/><circle cx="423.3" cy="1285.6" r="2.5" fill="#1d1a1a"/><text x="362.3" y="1199.9" font-size="5.7" fill="#333" text-anchor="middle" >1/L1</text><text x="362.3" y="1263.1" font-size="5.7" fill="#333" text-anchor="middle" >2/T1</text><text x="387.5" y="1199.9" font-size="5.7" fill="#333" text-anchor="middle" >3/L2</text><text x="387.5" y="1263.1" font-size="5.7" fill="#333" text-anchor="middle" >4/T2</text><text x="412.8" y="1199.9" font-size="5.7" fill="#333" text-anchor="middle" >5/L3</text><text x="412.8" y="1263.1" font-size="5.7" fill="#333" text-anchor="middle" >6/T3</text><text x="440.8" y="1199.9" font-size="5.7" fill="#333" text-anchor="middle" >13NO</text><text x="440.8" y="1263.1" font-size="5.7" fill="#333" text-anchor="middle" >14NO</text><text x="375.5" y="1184.9" font-size="5.1" fill="#222" text-anchor="middle" >A1</text><text x="425.5" y="1184.9" font-size="5.1" fill="#222" text-anchor="middle" >A2</text><text x="424.5" y="1279.2" font-size="5.1" fill="#222" text-anchor="middle" >A2</text><rect x="531.2" y="1168.3" width="99.2" height="123.4" fill="#EDEDED" /><rect x="531.7" y="1169.3" width="4.5" height="9.0" fill="#3b3b3b" rx="0.5" /><rect x="558.2" y="1169.3" width="4.5" height="6.5" fill="#3b3b3b" rx="0.5" /><rect x="581.2" y="1169.3" width="4.5" height="6.5" fill="#3b3b3b" rx="0.5" /><rect x="607.2" y="1169.3" width="4.5" height="6.5" fill="#3b3b3b" rx="0.5" /><rect x="625.2" y="1169.3" width="4.5" height="9.0" fill="#3b3b3b" rx="0.5" /><rect x="537.2" y="1168.9" width="10.0" height="9.5" fill="#D8D8D8" rx="2.0" /><rect x="564.2" y="1168.9" width="16.0" height="9.5" fill="#D8D8D8" rx="2.0" /><rect x="613.2" y="1168.9" width="10.0" height="9.5" fill="#D8D8D8" rx="2.0" /><rect x="531.7" y="1282.3" width="4.7" height="8.3" fill="#3b3b3b" rx="0.5" /><rect x="557.7" y="1282.3" width="4.7" height="8.3" fill="#3b3b3b" rx="0.5" /><rect x="581.2" y="1282.3" width="4.7" height="8.3" fill="#3b3b3b" rx="0.5" /><rect x="608.2" y="1282.3" width="4.7" height="8.3" fill="#3b3b3b" rx="0.5" /><rect x="625.2" y="1282.3" width="4.7" height="8.3" fill="#3b3b3b" rx="0.5" /><rect x="540.2" y="1281.8" width="13.0" height="9.5" fill="#D6D6D6" rx="1.5" /><rect x="564.2" y="1281.8" width="13.0" height="9.5" fill="#D6D6D6" rx="1.5" /><rect x="614.2" y="1281.8" width="9.0" height="9.5" fill="#D6D6D6" rx="1.5" /><rect x="531.2" y="1200.4" width="99.2" height="56.6" fill="#27292a" /><rect x="537.5" y="1200.4" width="85.7" height="56.6" fill="#E3E4E4" /><rect x="537.5" y="1200.4" width="85.7" height="1.2" fill="#c9c9c9" /><circle cx="545.4" cy="1209.8" r="5.2" fill="#0C8432"/><circle cx="545.4" cy="1209.6" r="4.6" fill="#1AA848"/><circle cx="545.4" cy="1209.8" r="3.1" fill="#4CC876"/><circle cx="545.4" cy="1209.8" r="2.3" fill="#1d1a1a"/><circle cx="545.4" cy="1247.0" r="5.2" fill="#0C8432"/><circle cx="545.4" cy="1246.8" r="4.6" fill="#1AA848"/><circle cx="545.4" cy="1247.0" r="3.1" fill="#4CC876"/><circle cx="545.4" cy="1247.0" r="2.3" fill="#1d1a1a"/><text x="545.4" y="1219.8" font-size="5.0" fill="#244a9a" text-anchor="middle" >53NO</text><text x="545.4" y="1239.9" font-size="5.0" fill="#244a9a" text-anchor="middle" >54NO</text><circle cx="568.0" cy="1209.8" r="5.2" fill="#B3AE10"/><circle cx="568.0" cy="1209.6" r="4.6" fill="#D4CF22"/><circle cx="568.0" cy="1209.8" r="3.1" fill="#E9E562"/><circle cx="568.0" cy="1209.8" r="2.3" fill="#1d1a1a"/><circle cx="568.0" cy="1247.0" r="5.2" fill="#B3AE10"/><circle cx="568.0" cy="1246.8" r="4.6" fill="#D4CF22"/><circle cx="568.0" cy="1247.0" r="3.1" fill="#E9E562"/><circle cx="568.0" cy="1247.0" r="2.3" fill="#1d1a1a"/><text x="568.0" y="1219.8" font-size="5.0" fill="#244a9a" text-anchor="middle" >61NC</text><text x="568.0" y="1239.9" font-size="5.0" fill="#244a9a" text-anchor="middle" >62NC</text><circle cx="592.3" cy="1209.8" r="5.2" fill="#B3AE10"/><circle cx="592.3" cy="1209.6" r="4.6" fill="#D4CF22"/><circle cx="592.3" cy="1209.8" r="3.1" fill="#E9E562"/><circle cx="592.3" cy="1209.8" r="2.3" fill="#1d1a1a"/><circle cx="592.3" cy="1247.0" r="5.2" fill="#B3AE10"/><circle cx="592.3" cy="1246.8" r="4.6" fill="#D4CF22"/><circle cx="592.3" cy="1247.0" r="3.1" fill="#E9E562"/><circle cx="592.3" cy="1247.0" r="2.3" fill="#1d1a1a"/><text x="592.3" y="1219.8" font-size="5.0" fill="#244a9a" text-anchor="middle" >71NC</text><text x="592.3" y="1239.9" font-size="5.0" fill="#244a9a" text-anchor="middle" >72NC</text><circle cx="614.3" cy="1209.8" r="5.2" fill="#0C8432"/><circle cx="614.3" cy="1209.6" r="4.6" fill="#1AA848"/><circle cx="614.3" cy="1209.8" r="3.1" fill="#4CC876"/><circle cx="614.3" cy="1209.8" r="2.3" fill="#1d1a1a"/><circle cx="614.3" cy="1247.0" r="5.2" fill="#0C8432"/><circle cx="614.3" cy="1246.8" r="4.6" fill="#1AA848"/><circle cx="614.3" cy="1247.0" r="3.1" fill="#4CC876"/><circle cx="614.3" cy="1247.0" r="2.3" fill="#1d1a1a"/><text x="614.3" y="1219.8" font-size="5.0" fill="#244a9a" text-anchor="middle" >83NO</text><text x="614.3" y="1239.9" font-size="5.0" fill="#244a9a" text-anchor="middle" >84NO</text><rect x="557.0" y="1223.0" width="39.4" height="12.4" fill="#F6F6F6" rx="1.0" stroke="#cfcfcf" stroke-width="0.8"/><rect x="596.4" y="1222.4" width="7.4" height="13.0" fill="#B8141A" /><circle cx="540.5" cy="1188.0" r="6.7" fill="#D66F1C"/><circle cx="540.5" cy="1187.7" r="5.9" fill="#EC8A38"/><circle cx="540.5" cy="1188.0" r="4.0" fill="#F4A560"/><circle cx="540.5" cy="1188.0" r="3.0" fill="#1d1a1a"/><circle cx="540.5" cy="1270.3" r="6.7" fill="#D66F1C"/><circle cx="540.5" cy="1270.0" r="5.9" fill="#EC8A38"/><circle cx="540.5" cy="1270.3" r="4.0" fill="#F4A560"/><circle cx="540.5" cy="1270.3" r="3.0" fill="#1d1a1a"/><circle cx="565.7" cy="1188.0" r="6.7" fill="#D66F1C"/><circle cx="565.7" cy="1187.7" r="5.9" fill="#EC8A38"/><circle cx="565.7" cy="1188.0" r="4.0" fill="#F4A560"/><circle cx="565.7" cy="1188.0" r="3.0" fill="#1d1a1a"/><circle cx="565.7" cy="1270.3" r="6.7" fill="#D66F1C"/><circle cx="565.7" cy="1270.0" r="5.9" fill="#EC8A38"/><circle cx="565.7" cy="1270.3" r="4.0" fill="#F4A560"/><circle cx="565.7" cy="1270.3" r="3.0" fill="#1d1a1a"/><circle cx="591.0" cy="1188.0" r="6.7" fill="#D66F1C"/><circle cx="591.0" cy="1187.7" r="5.9" fill="#EC8A38"/><circle cx="591.0" cy="1188.0" r="4.0" fill="#F4A560"/><circle cx="591.0" cy="1188.0" r="3.0" fill="#1d1a1a"/><circle cx="591.0" cy="1270.3" r="6.7" fill="#D66F1C"/><circle cx="591.0" cy="1270.0" r="5.9" fill="#EC8A38"/><circle cx="591.0" cy="1270.3" r="4.0" fill="#F4A560"/><circle cx="591.0" cy="1270.3" r="3.0" fill="#1d1a1a"/><circle cx="619.0" cy="1188.0" r="7.0" fill="#0C8432"/><circle cx="619.0" cy="1187.7" r="6.2" fill="#1AA848"/><circle cx="619.0" cy="1188.0" r="4.2" fill="#4CC876"/><circle cx="619.0" cy="1188.0" r="3.1" fill="#1d1a1a"/><circle cx="619.0" cy="1270.3" r="7.0" fill="#0C8432"/><circle cx="619.0" cy="1270.0" r="6.2" fill="#1AA848"/><circle cx="619.0" cy="1270.3" r="4.2" fill="#4CC876"/><circle cx="619.0" cy="1270.3" r="3.1" fill="#1d1a1a"/><circle cx="551.7" cy="1173.6" r="5.6" fill="#A80C20"/><circle cx="551.7" cy="1173.4" r="4.9" fill="#CF1A30"/><circle cx="551.7" cy="1173.6" r="3.4" fill="#E04A5C"/><circle cx="551.7" cy="1173.6" r="2.5" fill="#1d1a1a"/><circle cx="599.6" cy="1173.6" r="5.6" fill="#A80C20"/><circle cx="599.6" cy="1173.4" r="4.9" fill="#CF1A30"/><circle cx="599.6" cy="1173.6" r="3.4" fill="#E04A5C"/><circle cx="599.6" cy="1173.6" r="2.5" fill="#1d1a1a"/><circle cx="601.5" cy="1285.6" r="5.6" fill="#A80C20"/><circle cx="601.5" cy="1285.4" r="4.9" fill="#CF1A30"/><circle cx="601.5" cy="1285.6" r="3.4" fill="#E04A5C"/><circle cx="601.5" cy="1285.6" r="2.5" fill="#1d1a1a"/><text x="540.5" y="1199.9" font-size="5.7" fill="#333" text-anchor="middle" >1/L1</text><text x="540.5" y="1263.1" font-size="5.7" fill="#333" text-anchor="middle" >2/T1</text><text x="565.7" y="1199.9" font-size="5.7" fill="#333" text-anchor="middle" >3/L2</text><text x="565.7" y="1263.1" font-size="5.7" fill="#333" text-anchor="middle" >4/T2</text><text x="591.0" y="1199.9" font-size="5.7" fill="#333" text-anchor="middle" >5/L3</text><text x="591.0" y="1263.1" font-size="5.7" fill="#333" text-anchor="middle" >6/T3</text><text x="619.0" y="1199.9" font-size="5.7" fill="#333" text-anchor="middle" >13NO</text><text x="619.0" y="1263.1" font-size="5.7" fill="#333" text-anchor="middle" >14NO</text><text x="553.7" y="1184.9" font-size="5.1" fill="#222" text-anchor="middle" >A1</text><text x="603.7" y="1184.9" font-size="5.1" fill="#222" text-anchor="middle" >A2</text><text x="602.7" y="1279.2" font-size="5.1" fill="#222" text-anchor="middle" >A2</text><rect x="729.5" y="1168.9" width="59.2" height="122.8" fill="#E9E9E9" /><rect x="732.0" y="1170.9" width="2.5" height="7.0" fill="#cfcfcf" /><rect x="783.5" y="1170.9" width="2.5" height="7.0" fill="#cfcfcf" /><rect x="732.0" y="1282.9" width="2.5" height="7.0" fill="#cfcfcf" /><rect x="783.5" y="1282.9" width="2.5" height="7.0" fill="#cfcfcf" /><rect x="749.5" y="1168.9" width="19.0" height="9.0" fill="#d9d9d9" rx="2.0" /><rect x="729.5" y="1200.4" width="59.2" height="59.2" fill="#DDDDDD" /><rect x="729.5" y="1200.4" width="59.2" height="3.2" fill="#BDBDBD" /><rect x="729.5" y="1257.6" width="59.2" height="2.0" fill="#C9C9C9" /><circle cx="758.7" cy="1173.6" r="5.6" fill="#A80C20"/><circle cx="758.7" cy="1173.4" r="4.9" fill="#CF1A30"/><circle cx="758.7" cy="1173.6" r="3.4" fill="#E04A5C"/><circle cx="758.7" cy="1173.6" r="2.5" fill="#1d1a1a"/><circle cx="758.7" cy="1286.0" r="5.6" fill="#A80C20"/><circle cx="758.7" cy="1285.8" r="4.9" fill="#CF1A30"/><circle cx="758.7" cy="1286.0" r="3.4" fill="#E04A5C"/><circle cx="758.7" cy="1286.0" r="2.5" fill="#1d1a1a"/><circle cx="741.4" cy="1189.4" r="6.6" fill="#D66F1C"/><circle cx="741.4" cy="1189.1" r="5.8" fill="#EC8A38"/><circle cx="741.4" cy="1189.4" r="4.0" fill="#F4A560"/><circle cx="741.4" cy="1189.4" r="3.0" fill="#1d1a1a"/><circle cx="741.4" cy="1269.6" r="6.6" fill="#D66F1C"/><circle cx="741.4" cy="1269.3" r="5.8" fill="#EC8A38"/><circle cx="741.4" cy="1269.6" r="4.0" fill="#F4A560"/><circle cx="741.4" cy="1269.6" r="3.0" fill="#1d1a1a"/><circle cx="775.4" cy="1189.4" r="6.6" fill="#D66F1C"/><circle cx="775.4" cy="1189.1" r="5.8" fill="#EC8A38"/><circle cx="775.4" cy="1189.4" r="4.0" fill="#F4A560"/><circle cx="775.4" cy="1189.4" r="3.0" fill="#1d1a1a"/><circle cx="775.4" cy="1269.6" r="6.6" fill="#D66F1C"/><circle cx="775.4" cy="1269.3" r="5.8" fill="#EC8A38"/><circle cx="775.4" cy="1269.6" r="4.0" fill="#F4A560"/><circle cx="775.4" cy="1269.6" r="3.0" fill="#1d1a1a"/><text x="758.7" y="1185.0" font-size="5.4" fill="#222" text-anchor="middle" >A1</text><text x="758.7" y="1277.9" font-size="5.4" fill="#222" text-anchor="middle" >A2</text><text x="741.4" y="1201.5" font-size="6.1" fill="#333" text-anchor="middle" >1</text><text x="775.4" y="1201.5" font-size="6.1" fill="#333" text-anchor="middle" >3</text><text x="741.4" y="1260.0" font-size="6.1" fill="#333" text-anchor="middle" >2</text><text x="775.4" y="1260.0" font-size="6.1" fill="#333" text-anchor="middle" >4</text>
<text x="745.5" y="1226.8" font-size="13.2" font-weight="bold" fill="#111">交流</text>
<text x="738.9" y="1243.2" font-size="13.2" font-weight="bold" fill="#111">接触器</text>
<text x="153" y="1328" font-size="29" fill="#333">交流接触器</text>
<text x="686.2" y="1328" font-size="29" fill="#333">交流接触器</text>
<text x="330.8" y="1332" font-size="29" fill="#333">交流接触器</text>
<text x="330.8" y="1371" font-size="29" fill="#333">（带背包）</text>
<text x="508.5" y="1332" font-size="29" fill="#333">交流接触器</text>
<text x="508.5" y="1371" font-size="29" fill="#333">（带背包）</text>
<rect x="218.6" y="1421.5" width="8.0" height="24.5" fill="#2B3BC8" rx="1.5" /><path d="M216.5 1424.5 L219.5 1419.5 H225.5 L228.5 1424.5 Z" fill="#2231B0"/><rect x="221.5" y="1433.0" width="2.0" height="9.0" fill="#8f9cf0" /><path d="M182.2 1445.8 V1427.6 L184.2 1425.6 H262.2 L264.2 1427.6 V1445.8 Z" fill="#1E1F1F"/><rect x="218.6" y="1425.6" width="8.0" height="20.2" fill="#2B3BC8" /><rect x="221.5" y="1433.0" width="2.0" height="9.0" fill="#8f9cf0" /><path d="M182.8 1445.8 H264.2 L267.8 1453 V1526.4 H182.8 Z" fill="#E9ECF1"/><path d="M182.8 1445.8 L187.8 1457 V1524.4 L182.8 1526.4 Z" fill="#F7F8FA"/><rect x="187.8" y="1457.0" width="77.8" height="67.4" fill="#BAC4D6" /><rect x="187.8" y="1457.0" width="77.8" height="67.4" fill="none" stroke="#9aa6bd" stroke-width="0.8"/><line x1="196.0" y1="1468.3" x2="258.6" y2="1468.3" stroke="#28389E" stroke-width="1.10" />
<text x="198.4" y="1482.3" font-size="9.6" font-weight="bold" letter-spacing="1.6" fill="#2a2a2a">液位继电器</text>
<text x="229.1" y="1505.3" font-size="6.2" font-weight="bold" fill="#2a2a2a">运行</text>
<circle cx="250.8" cy="1502.8" r="6.6" fill="url(#gball)" stroke="#4a4a4a" stroke-width="0.5"/><rect x="182.2" y="1527.8" width="81.1" height="16.1" fill="#1E1F1F" /><circle cx="192.8" cy="1434.7" r="6.2" fill="#555555"/><circle cx="192.8" cy="1434.5" r="5.5" fill="#8A8A8A"/><circle cx="192.8" cy="1434.7" r="3.7" fill="#C8C8C8"/><circle cx="192.8" cy="1434.7" r="2.8" fill="#9a9a9a"/><circle cx="209.4" cy="1434.7" r="6.2" fill="#555555"/><circle cx="209.4" cy="1434.5" r="5.5" fill="#8A8A8A"/><circle cx="209.4" cy="1434.7" r="3.7" fill="#C8C8C8"/><circle cx="209.4" cy="1434.7" r="2.8" fill="#9a9a9a"/><circle cx="234.4" cy="1436.0" r="6.8" fill="#B3AE10"/><circle cx="234.4" cy="1435.7" r="6.0" fill="#D4CF22"/><circle cx="234.4" cy="1436.0" r="4.1" fill="#E9E562"/><circle cx="234.4" cy="1436.0" r="3.1" fill="#1d1a1a"/><circle cx="254.4" cy="1436.0" r="6.8" fill="#D66F1C"/><circle cx="254.4" cy="1435.7" r="6.0" fill="#EC8A38"/><circle cx="254.4" cy="1436.0" r="4.1" fill="#F4A560"/><circle cx="254.4" cy="1436.0" r="3.1" fill="#1d1a1a"/><circle cx="192.0" cy="1536.0" r="5.8" fill="#555555"/><circle cx="192.0" cy="1535.8" r="5.1" fill="#8A8A8A"/><circle cx="192.0" cy="1536.0" r="3.5" fill="#C8C8C8"/><circle cx="192.0" cy="1536.0" r="2.6" fill="#9a9a9a"/><circle cx="210.6" cy="1536.0" r="6.6" fill="#A80C20"/><circle cx="210.6" cy="1535.7" r="5.8" fill="#CF1A30"/><circle cx="210.6" cy="1536.0" r="4.0" fill="#E04A5C"/><circle cx="210.6" cy="1536.0" r="3.0" fill="#1d1a1a"/><circle cx="233.6" cy="1536.0" r="6.6" fill="#A80C20"/><circle cx="233.6" cy="1535.7" r="5.8" fill="#CF1A30"/><circle cx="233.6" cy="1536.0" r="4.0" fill="#E04A5C"/><circle cx="233.6" cy="1536.0" r="3.0" fill="#1d1a1a"/><circle cx="254.4" cy="1536.0" r="6.6" fill="#0C8432"/><circle cx="254.4" cy="1535.7" r="5.8" fill="#1AA848"/><circle cx="254.4" cy="1536.0" r="4.0" fill="#4CC876"/><circle cx="254.4" cy="1536.0" r="3.0" fill="#1d1a1a"/><rect x="381.4" y="1420.0" width="44.4" height="123.9" fill="#1E1F1F" /><circle cx="388.3" cy="1427.2" r="3.4" fill="#fff"/><circle cx="399.4" cy="1427.2" r="4.9" fill="#D4CF22"/><circle cx="399.4" cy="1427.2" r="2.2" fill="#1d1a1a"/><circle cx="421.3" cy="1427.2" r="4.9" fill="#D4CF22"/><circle cx="421.3" cy="1427.2" r="2.2" fill="#1d1a1a"/><text x="408.5" y="1427.6" font-size="5.1" fill="#ddd" text-anchor="middle" >NC</text><circle cx="388.3" cy="1442.5" r="4.9" fill="#1AA848"/><circle cx="388.3" cy="1442.5" r="2.2" fill="#1d1a1a"/><circle cx="388.3" cy="1518.9" r="4.9" fill="#EC8A38"/><circle cx="388.3" cy="1518.9" r="2.2" fill="#1d1a1a"/><circle cx="418.6" cy="1442.5" r="4.9" fill="#1AA848"/><circle cx="418.6" cy="1442.5" r="2.2" fill="#1d1a1a"/><circle cx="418.6" cy="1518.9" r="4.9" fill="#EC8A38"/><circle cx="418.6" cy="1518.9" r="2.2" fill="#1d1a1a"/><text x="403.5" y="1444.8" font-size="5.6" fill="#ddd" text-anchor="middle" >NO</text><text x="403.5" y="1521.3" font-size="6.1" fill="#ddd" text-anchor="middle" >COM</text><text x="383.3" y="1514.2" font-size="4.1" fill="#ddd" text-anchor="middle" >12</text><text x="424.1" y="1514.2" font-size="4.1" fill="#ddd" text-anchor="middle" >9</text><circle cx="388.3" cy="1534.2" r="4.9" fill="#CF1A30"/><circle cx="388.3" cy="1534.2" r="2.2" fill="#1d1a1a"/><circle cx="403.6" cy="1534.2" r="4.9" fill="#CF1A30"/><circle cx="403.6" cy="1534.2" r="2.2" fill="#1d1a1a"/><circle cx="418.3" cy="1534.2" r="3.4" fill="#fff"/><rect x="383.0" y="1450.4" width="40.9" height="52.4" fill="url(#grelay)" /><rect x="383.0" y="1450.4" width="40.9" height="20.4" fill="#F4F3FA" /><rect x="383.0" y="1494.4" width="40.9" height="8.4" fill="#BEBFC2" /><rect x="383.0" y="1493.8" width="40.9" height="1.0" fill="#9a9a9e" /><path d="M379.5 1470.8 H392.5 l2.2 2.8 H412.3 l2.2 -2.8 H427.4" fill="none" stroke="#8d8d92" stroke-width="1.2"/><rect x="378.4" y="1470.0" width="2.6" height="5.5" fill="#b9b9bd" rx="0.8" /><rect x="425.9" y="1470.0" width="2.6" height="5.5" fill="#b9b9bd" rx="0.8" />
<text x="385.45" y="1460.3" font-size="7.2" font-weight="bold" fill="#111">中间继电器</text>
<text x="403.5" y="1468.8" font-size="6.3" fill="#111" text-anchor="middle" >AC</text><circle cx="392.0" cy="1484.7" r="4.9" fill="url(#gball)" stroke="#4a4a4a" stroke-width="0.5"/><rect x="549.7" y="1420.0" width="60.6" height="123.9" fill="#1E1F1F" /><circle cx="556.9" cy="1427.2" r="3.4" fill="#fff"/><circle cx="572.8" cy="1427.2" r="4.9" fill="#D4CF22"/><circle cx="572.8" cy="1427.2" r="2.2" fill="#1d1a1a"/><circle cx="587.7" cy="1427.2" r="4.9" fill="#D4CF22"/><circle cx="587.7" cy="1427.2" r="2.2" fill="#1d1a1a"/><circle cx="602.6" cy="1427.2" r="4.9" fill="#D4CF22"/><circle cx="602.6" cy="1427.2" r="2.2" fill="#1d1a1a"/><circle cx="556.9" cy="1442.5" r="4.9" fill="#1AA848"/><circle cx="556.9" cy="1442.5" r="2.2" fill="#1d1a1a"/><circle cx="556.9" cy="1518.9" r="4.9" fill="#EC8A38"/><circle cx="556.9" cy="1518.9" r="2.2" fill="#1d1a1a"/><circle cx="572.8" cy="1442.5" r="4.9" fill="#1AA848"/><circle cx="572.8" cy="1442.5" r="2.2" fill="#1d1a1a"/><circle cx="572.8" cy="1518.9" r="4.9" fill="#EC8A38"/><circle cx="572.8" cy="1518.9" r="2.2" fill="#1d1a1a"/><circle cx="587.7" cy="1442.5" r="4.9" fill="#1AA848"/><circle cx="587.7" cy="1442.5" r="2.2" fill="#1d1a1a"/><circle cx="587.7" cy="1518.9" r="4.9" fill="#EC8A38"/><circle cx="587.7" cy="1518.9" r="2.2" fill="#1d1a1a"/><circle cx="602.6" cy="1442.5" r="4.9" fill="#1AA848"/><circle cx="602.6" cy="1442.5" r="2.2" fill="#1d1a1a"/><circle cx="602.6" cy="1518.9" r="4.9" fill="#EC8A38"/><circle cx="602.6" cy="1518.9" r="2.2" fill="#1d1a1a"/><text x="580.2" y="1435.6" font-size="5.4" fill="#ddd" text-anchor="middle" >NC</text><text x="580.2" y="1451.3" font-size="5.4" fill="#ddd" text-anchor="middle" >NO</text><text x="581.2" y="1511.1" font-size="6.8" fill="#ddd" text-anchor="middle" >COM</text><text x="551.3" y="1514.2" font-size="4.1" fill="#ddd" text-anchor="middle" >12</text><text x="567.2" y="1514.2" font-size="4.1" fill="#ddd" text-anchor="middle" >11</text><text x="582.1" y="1514.2" font-size="4.1" fill="#ddd" text-anchor="middle" >10</text><text x="597.0" y="1514.2" font-size="4.1" fill="#ddd" text-anchor="middle" >9</text><circle cx="556.9" cy="1534.2" r="4.9" fill="#D4CF22"/><circle cx="556.9" cy="1534.2" r="2.2" fill="#1d1a1a"/><circle cx="572.8" cy="1534.2" r="4.9" fill="#CF1A30"/><circle cx="572.8" cy="1534.2" r="2.2" fill="#1d1a1a"/><circle cx="587.7" cy="1534.2" r="4.9" fill="#CF1A30"/><circle cx="587.7" cy="1534.2" r="2.2" fill="#1d1a1a"/><circle cx="602.6" cy="1534.2" r="3.4" fill="#fff"/><rect x="553.9" y="1450.4" width="52.2" height="52.4" fill="url(#grelay)" /><rect x="553.9" y="1450.4" width="52.2" height="20.4" fill="#F4F3FA" /><rect x="553.9" y="1494.4" width="52.2" height="8.4" fill="#BEBFC2" /><rect x="553.9" y="1493.8" width="52.2" height="1.0" fill="#9a9a9e" /><path d="M550.4 1470.8 H569.0 l2.2 2.8 H588.8 l2.2 -2.8 H609.6" fill="none" stroke="#8d8d92" stroke-width="1.2"/><rect x="549.3" y="1470.0" width="2.6" height="5.5" fill="#b9b9bd" rx="0.8" /><rect x="608.1" y="1470.0" width="2.6" height="5.5" fill="#b9b9bd" rx="0.8" />
<text x="562" y="1460.3" font-size="7.2" font-weight="bold" fill="#111">中间继电器</text>
<text x="580.0" y="1468.8" font-size="6.3" fill="#111" text-anchor="middle" >AC</text><circle cx="563.9" cy="1484.7" r="4.9" fill="url(#gball)" stroke="#4a4a4a" stroke-width="0.5"/><rect x="737.2" y="1420.0" width="44.8" height="123.9" fill="#1E1F1F" /><circle cx="744.4" cy="1427.2" r="3.4" fill="#fff"/><circle cx="755.5" cy="1427.2" r="4.9" fill="#D4CF22"/><circle cx="755.5" cy="1427.2" r="2.2" fill="#1d1a1a"/><circle cx="777.1" cy="1427.2" r="4.9" fill="#D4CF22"/><circle cx="777.1" cy="1427.2" r="2.2" fill="#1d1a1a"/><text x="764.4" y="1427.6" font-size="5.1" fill="#ddd" text-anchor="middle" >NC</text><circle cx="744.4" cy="1442.5" r="4.9" fill="#1AA848"/><circle cx="744.4" cy="1442.5" r="2.2" fill="#1d1a1a"/><circle cx="744.4" cy="1518.9" r="4.9" fill="#EC8A38"/><circle cx="744.4" cy="1518.9" r="2.2" fill="#1d1a1a"/><circle cx="774.4" cy="1442.5" r="4.9" fill="#1AA848"/><circle cx="774.4" cy="1442.5" r="2.2" fill="#1d1a1a"/><circle cx="774.4" cy="1518.9" r="4.9" fill="#EC8A38"/><circle cx="774.4" cy="1518.9" r="2.2" fill="#1d1a1a"/><text x="759.4" y="1444.8" font-size="5.6" fill="#ddd" text-anchor="middle" >NO</text><text x="759.4" y="1521.3" font-size="6.1" fill="#ddd" text-anchor="middle" >COM</text><text x="739.4" y="1514.2" font-size="4.1" fill="#ddd" text-anchor="middle" >12</text><text x="779.9" y="1514.2" font-size="4.1" fill="#ddd" text-anchor="middle" >9</text><circle cx="744.4" cy="1534.2" r="4.9" fill="#B27A30"/><circle cx="744.4" cy="1534.2" r="2.2" fill="#1d1a1a"/><circle cx="759.4" cy="1534.2" r="4.9" fill="#2A66E0"/><circle cx="759.4" cy="1534.2" r="2.2" fill="#1d1a1a"/><circle cx="774.7" cy="1534.2" r="3.4" fill="#fff"/><rect x="738.8" y="1450.4" width="41.3" height="52.4" fill="url(#grelay)" /><rect x="738.8" y="1450.4" width="41.3" height="20.4" fill="#F4F3FA" /><rect x="738.8" y="1494.4" width="41.3" height="8.4" fill="#BEBFC2" /><rect x="738.8" y="1493.8" width="41.3" height="1.0" fill="#9a9a9e" /><path d="M735.3 1470.8 H748.5 l2.2 2.8 H768.2 l2.2 -2.8 H783.6" fill="none" stroke="#8d8d92" stroke-width="1.2"/><rect x="734.2" y="1470.0" width="2.6" height="5.5" fill="#b9b9bd" rx="0.8" /><rect x="782.1" y="1470.0" width="2.6" height="5.5" fill="#b9b9bd" rx="0.8" />
<text x="741.45" y="1460.3" font-size="7.2" font-weight="bold" fill="#111">中间继电器</text>
<text x="759.5" y="1468.8" font-size="6.3" fill="#111" text-anchor="middle" >DC</text><circle cx="747.8" cy="1484.7" r="4.9" fill="url(#gball)" stroke="#4a4a4a" stroke-width="0.5"/>
<text x="153" y="1580" font-size="29" fill="#333">液位继电器</text>
<text x="330.8" y="1584" font-size="29" fill="#333">中间继电器</text>
<text x="403.3" y="1619.0" font-size="29.0" fill="#333" text-anchor="middle" textLength="38.0" lengthAdjust="spacingAndGlyphs">AC</text>
<text x="508.5" y="1584" font-size="29" fill="#333">中间继电器</text>
<text x="581.0" y="1619.0" font-size="29.0" fill="#333" text-anchor="middle" textLength="38.0" lengthAdjust="spacingAndGlyphs">AC</text>
<text x="686.2" y="1584" font-size="29" fill="#333">中间继电器</text>
<text x="758.7" y="1619.0" font-size="29.0" fill="#333" text-anchor="middle" textLength="39.0" lengthAdjust="spacingAndGlyphs">DC</text><rect x="194.2" y="1666.8" width="61.1" height="123.9" fill="#1E1F1F" /><circle cx="202.2" cy="1674.0" r="3.4" fill="#fff"/><circle cx="217.4" cy="1674.0" r="4.9" fill="#D4CF22"/><circle cx="217.4" cy="1674.0" r="2.2" fill="#1d1a1a"/><circle cx="232.5" cy="1674.0" r="4.9" fill="#D4CF22"/><circle cx="232.5" cy="1674.0" r="2.2" fill="#1d1a1a"/><circle cx="248.0" cy="1674.0" r="4.9" fill="#D4CF22"/><circle cx="248.0" cy="1674.0" r="2.2" fill="#1d1a1a"/><circle cx="202.2" cy="1689.3" r="4.9" fill="#1AA848"/><circle cx="202.2" cy="1689.3" r="2.2" fill="#1d1a1a"/><circle cx="202.2" cy="1765.7" r="4.9" fill="#EC8A38"/><circle cx="202.2" cy="1765.7" r="2.2" fill="#1d1a1a"/><circle cx="217.4" cy="1689.3" r="4.9" fill="#1AA848"/><circle cx="217.4" cy="1689.3" r="2.2" fill="#1d1a1a"/><circle cx="217.4" cy="1765.7" r="4.9" fill="#EC8A38"/><circle cx="217.4" cy="1765.7" r="2.2" fill="#1d1a1a"/><circle cx="232.5" cy="1689.3" r="4.9" fill="#1AA848"/><circle cx="232.5" cy="1689.3" r="2.2" fill="#1d1a1a"/><circle cx="232.5" cy="1765.7" r="4.9" fill="#EC8A38"/><circle cx="232.5" cy="1765.7" r="2.2" fill="#1d1a1a"/><circle cx="248.0" cy="1689.3" r="4.9" fill="#1AA848"/><circle cx="248.0" cy="1689.3" r="2.2" fill="#1d1a1a"/><circle cx="248.0" cy="1765.7" r="4.9" fill="#EC8A38"/><circle cx="248.0" cy="1765.7" r="2.2" fill="#1d1a1a"/><text x="224.9" y="1682.4" font-size="5.4" fill="#ddd" text-anchor="middle" >NC</text><text x="224.9" y="1698.1" font-size="5.4" fill="#ddd" text-anchor="middle" >NO</text><text x="225.9" y="1757.9" font-size="6.8" fill="#ddd" text-anchor="middle" >COM</text><text x="196.6" y="1761.0" font-size="4.1" fill="#ddd" text-anchor="middle" >12</text><text x="211.8" y="1761.0" font-size="4.1" fill="#ddd" text-anchor="middle" >11</text><text x="226.9" y="1761.0" font-size="4.1" fill="#ddd" text-anchor="middle" >10</text><text x="242.4" y="1761.0" font-size="4.1" fill="#ddd" text-anchor="middle" >9</text><circle cx="202.2" cy="1781.0" r="4.9" fill="#D4CF22"/><circle cx="202.2" cy="1781.0" r="2.2" fill="#1d1a1a"/><circle cx="217.4" cy="1781.0" r="4.9" fill="#B27A30"/><circle cx="217.4" cy="1781.0" r="2.2" fill="#1d1a1a"/><circle cx="232.5" cy="1781.0" r="4.9" fill="#2A66E0"/><circle cx="232.5" cy="1781.0" r="2.2" fill="#1d1a1a"/><circle cx="248.0" cy="1781.0" r="3.4" fill="#fff"/><rect x="198.4" y="1697.2" width="52.7" height="52.4" fill="url(#grelay)" /><rect x="198.4" y="1697.2" width="52.7" height="20.4" fill="#F4F3FA" /><rect x="198.4" y="1741.2" width="52.7" height="8.4" fill="#BEBFC2" /><rect x="198.4" y="1740.6" width="52.7" height="1.0" fill="#9a9a9e" /><path d="M194.9 1717.6 H213.8 l2.2 2.8 H233.6 l2.2 -2.8 H254.6" fill="none" stroke="#8d8d92" stroke-width="1.2"/><rect x="193.8" y="1716.8" width="2.6" height="5.5" fill="#b9b9bd" rx="0.8" /><rect x="253.1" y="1716.8" width="2.6" height="5.5" fill="#b9b9bd" rx="0.8" />
<text x="206.75" y="1707.1" font-size="7.2" font-weight="bold" fill="#111">中间继电器</text>
<text x="224.8" y="1715.6" font-size="6.3" fill="#111" text-anchor="middle" >DC</text><circle cx="208.4" cy="1731.5" r="4.9" fill="url(#gball)" stroke="#4a4a4a" stroke-width="0.5"/><path d="M342.4 1697 L345 1695.2 H450 L456 1704 V1760 H348 L342.4 1752 Z" fill="#1F2020"/><rect x="346.5" y="1728.0" width="1.6" height="9.0" fill="#ddd" rx="0.8" /><circle cx="353.0" cy="1704.0" r="5.0" fill="#B3AE10"/><circle cx="353.0" cy="1703.8" r="4.4" fill="#D4CF22"/><circle cx="353.0" cy="1704.0" r="3.0" fill="#E9E562"/><circle cx="353.0" cy="1704.0" r="2.2" fill="#1d1a1a"/><circle cx="385.5" cy="1704.0" r="5.0" fill="#B3AE10"/><circle cx="385.5" cy="1703.8" r="4.4" fill="#D4CF22"/><circle cx="385.5" cy="1704.0" r="3.0" fill="#E9E562"/><circle cx="385.5" cy="1704.0" r="2.2" fill="#1d1a1a"/><circle cx="411.4" cy="1704.0" r="5.0" fill="#A80C20"/><circle cx="411.4" cy="1703.8" r="4.4" fill="#CF1A30"/><circle cx="411.4" cy="1704.0" r="3.0" fill="#E04A5C"/><circle cx="411.4" cy="1704.0" r="2.2" fill="#1d1a1a"/><circle cx="443.5" cy="1704.0" r="5.0" fill="#A80C20"/><circle cx="443.5" cy="1703.8" r="4.4" fill="#CF1A30"/><circle cx="443.5" cy="1704.0" r="3.0" fill="#E04A5C"/><circle cx="443.5" cy="1704.0" r="2.2" fill="#1d1a1a"/><text x="345.5" y="1700.3" font-size="4.1" fill="#ddd" text-anchor="middle" >96</text><text x="378.0" y="1700.3" font-size="4.1" fill="#ddd" text-anchor="middle" >95</text><text x="420.5" y="1709.3" font-size="4.1" fill="#ddd" text-anchor="middle" >A2</text><text x="451.0" y="1709.3" font-size="4.1" fill="#ddd" text-anchor="middle" >A1</text><path d="M350 1708 H448 L464 1718.5 H358.6 Z" fill="#E6EAF0"/><rect x="358.6" y="1717.8" width="105.4" height="45.2" fill="#C6D1E1" /><path d="M350 1708 L358.6 1717.8 V1763 L350 1753 Z" fill="#DDE2EA"/><ellipse cx="368.4" cy="1710.6" rx="10" ry="4.3" fill="#fff"/><rect x="367.1" y="1682.0" width="2.6" height="27.0" fill="#E58A35" /><circle cx="368.4" cy="1682.0" r="4.9" fill="#EC8A38"/><circle cx="368.4" cy="1682.0" r="2.2" fill="#1d1a1a"/><rect x="367.1" y="1763.0" width="2.6" height="11.7" fill="#E58A35" /><circle cx="368.4" cy="1774.7" r="4.9" fill="#EC8A38"/><circle cx="368.4" cy="1774.7" r="2.2" fill="#1d1a1a"/><ellipse cx="401.4" cy="1710.6" rx="10" ry="4.3" fill="#fff"/><rect x="400.1" y="1682.0" width="2.6" height="27.0" fill="#E58A35" /><circle cx="401.4" cy="1682.0" r="4.9" fill="#EC8A38"/><circle cx="401.4" cy="1682.0" r="2.2" fill="#1d1a1a"/><rect x="400.1" y="1763.0" width="2.6" height="11.7" fill="#E58A35" /><circle cx="401.4" cy="1774.7" r="4.9" fill="#EC8A38"/><circle cx="401.4" cy="1774.7" r="2.2" fill="#1d1a1a"/><ellipse cx="435.0" cy="1710.6" rx="10" ry="4.3" fill="#fff"/><rect x="433.7" y="1682.0" width="2.6" height="27.0" fill="#E58A35" /><circle cx="435.0" cy="1682.0" r="4.9" fill="#EC8A38"/><circle cx="435.0" cy="1682.0" r="2.2" fill="#1d1a1a"/><rect x="433.7" y="1763.0" width="2.6" height="11.7" fill="#E58A35" /><circle cx="435.0" cy="1774.7" r="4.9" fill="#EC8A38"/><circle cx="435.0" cy="1774.7" r="2.2" fill="#1d1a1a"/><line x1="367.8" y1="1724.2" x2="439.6" y2="1724.2" stroke="#2EA6D6" stroke-width="1.50" /><text x="366.0" y="1723.4" font-size="4.4" fill="#333" text-anchor="middle" >1/L1</text><text x="366.0" y="1760.4" font-size="4.4" fill="#333" text-anchor="middle" >2/T1</text><text x="402.0" y="1723.4" font-size="4.4" fill="#333" text-anchor="middle" >3/L2</text><text x="402.0" y="1760.4" font-size="4.4" fill="#333" text-anchor="middle" >4/T2</text><text x="436.0" y="1723.4" font-size="4.4" fill="#333" text-anchor="middle" >5/L3</text><text x="436.0" y="1760.4" font-size="4.4" fill="#333" text-anchor="middle" >6/T3</text>
<text x="385.1" y="1739" font-size="6.9" font-weight="bold" fill="#111">电动机综合保护器</text>
<path d="M364.9 1738.2 A10.6 10.6 0 0 1 384.4 1737.2" fill="none" stroke="#2EA6D6" stroke-width="2.2"/><circle cx="374.8" cy="1741.7" r="7.4" fill="#1B9CCB" stroke="#137BA6" stroke-width="0.8"/><line x1="369.6" y1="1744.3" x2="380.0" y2="1739.1" stroke="#0b3d55" stroke-width="1.40" /><path d="M441.9 1738.2 A10.6 10.6 0 0 1 461.4 1737.2" fill="none" stroke="#2EA6D6" stroke-width="2.2"/><circle cx="451.8" cy="1741.7" r="7.4" fill="#1B9CCB" stroke="#137BA6" stroke-width="0.8"/><line x1="446.6" y1="1744.3" x2="457.0" y2="1739.1" stroke="#0b3d55" stroke-width="1.40" /><path d="M519.9 1703 L524 1692 H531 V1698 H537 L545 1690 H608.5 L617 1684.5 H624 L628.3 1690 L640.5 1710.5 V1755.4 H533 L519.9 1745 Z" fill="#E3E7ED"/><path d="M519.9 1703 L533 1710.5 V1755.4 L519.9 1745 Z" fill="#EEF0F4"/><rect x="533.0" y="1710.5" width="107.5" height="44.9" fill="#C9D3E2" /><rect x="533.0" y="1754.6" width="107.5" height="1.2" fill="#aab3c2" /><ellipse cx="545.8" cy="1704.6" rx="8" ry="3" fill="#AFB3B8"/><rect x="544.5" y="1681.5" width="2.6" height="23.0" fill="#E58A35" /><circle cx="545.8" cy="1681.5" r="4.9" fill="#EC8A38"/><circle cx="545.8" cy="1681.5" r="2.2" fill="#1d1a1a"/><rect x="544.5" y="1755.5" width="2.6" height="19.8" fill="#E58A35" /><circle cx="545.8" cy="1775.3" r="4.9" fill="#EC8A38"/><circle cx="545.8" cy="1775.3" r="2.2" fill="#1d1a1a"/><ellipse cx="579.4" cy="1704.6" rx="8" ry="3" fill="#AFB3B8"/><rect x="578.1" y="1681.5" width="2.6" height="23.0" fill="#E58A35" /><circle cx="579.4" cy="1681.5" r="4.9" fill="#EC8A38"/><circle cx="579.4" cy="1681.5" r="2.2" fill="#1d1a1a"/><rect x="578.1" y="1755.5" width="2.6" height="19.8" fill="#E58A35" /><circle cx="579.4" cy="1775.3" r="4.9" fill="#EC8A38"/><circle cx="579.4" cy="1775.3" r="2.2" fill="#1d1a1a"/><ellipse cx="613.7" cy="1704.6" rx="8" ry="3" fill="#AFB3B8"/><rect x="612.4" y="1681.5" width="2.6" height="23.0" fill="#E58A35" /><circle cx="613.7" cy="1681.5" r="4.9" fill="#EC8A38"/><circle cx="613.7" cy="1681.5" r="2.2" fill="#1d1a1a"/><rect x="612.4" y="1755.5" width="2.6" height="19.8" fill="#E58A35" /><circle cx="613.7" cy="1775.3" r="4.9" fill="#EC8A38"/><circle cx="613.7" cy="1775.3" r="2.2" fill="#1d1a1a"/><line x1="541.2" y1="1719.7" x2="607.0" y2="1719.7" stroke="#2EA6D6" stroke-width="2.40" /><text x="546.0" y="1715.8" font-size="4.6" fill="#333" text-anchor="middle" >1/L1</text><text x="580.0" y="1715.8" font-size="4.6" fill="#333" text-anchor="middle" >3/L2</text><text x="614.0" y="1715.8" font-size="4.6" fill="#333" text-anchor="middle" >5/L3</text><text x="546.0" y="1752.8" font-size="4.6" fill="#333" text-anchor="middle" >2/T1</text><text x="580.0" y="1752.8" font-size="4.6" fill="#333" text-anchor="middle" >4/T2</text><text x="614.0" y="1752.8" font-size="4.6" fill="#333" text-anchor="middle" >6/T3</text>
<text x="543.2" y="1732.7" font-size="7.3" font-weight="bold" fill="#111">电动机综合保护器</text>
<path d="M611.3 1729.5 A11.0 11.0 0 0 1 631.6 1728.5" fill="none" stroke="#2EA6D6" stroke-width="2.2"/><circle cx="621.6" cy="1733.0" r="7.8" fill="#1B9CCB" stroke="#137BA6" stroke-width="0.8"/><line x1="616.1" y1="1735.7" x2="627.1" y2="1730.3" stroke="#0b3d55" stroke-width="1.40" /><circle cx="537.3" cy="1743.2" r="3" fill="#9ea3aa" stroke="#6d7278" stroke-width="0.6"/><circle cx="551.0" cy="1743.2" r="3" fill="#9ea3aa" stroke="#6d7278" stroke-width="0.6"/><circle cx="537.3" cy="1759.0" r="4.6" fill="#D4CF22"/><circle cx="537.3" cy="1759.0" r="2.1" fill="#1d1a1a"/><circle cx="555.0" cy="1759.0" r="4.6" fill="#D4CF22"/><circle cx="555.0" cy="1759.0" r="2.1" fill="#1d1a1a"/><text x="533.5" y="1753.8" font-size="3.9" fill="#333" text-anchor="middle" >98NO</text><text x="556.5" y="1753.8" font-size="3.9" fill="#333" text-anchor="middle" >95NC</text><rect x="808.0" y="1720.0" width="7.0" height="66.0" fill="#C5C8D0" rx="2.0" /><rect x="700.0" y="1667.7" width="111.0" height="124.3" fill="#D2D5DC" rx="5.0" /><rect x="703.5" y="1671.0" width="104.5" height="118.5" fill="#A6AAB6" rx="3.0" /><rect x="709.3" y="1678.0" width="93.0" height="109.0" fill="#A9ADB9" rx="2.0" stroke="#999eab" stroke-width="0.7"/><circle cx="713.9" cy="1673.8" r="6.6" fill="#0C8432"/><circle cx="713.9" cy="1673.5" r="5.8" fill="#1AA848"/><circle cx="713.9" cy="1673.8" r="4.0" fill="#4CC876"/><circle cx="713.9" cy="1673.8" r="3.0" fill="#1d1a1a"/><circle cx="746.9" cy="1673.8" r="6.6" fill="#B3AE10"/><circle cx="746.9" cy="1673.5" r="5.8" fill="#D4CF22"/><circle cx="746.9" cy="1673.8" r="4.0" fill="#E9E562"/><circle cx="746.9" cy="1673.8" r="3.0" fill="#1d1a1a"/><circle cx="774.0" cy="1673.8" r="6.6" fill="#B3AE10"/><circle cx="774.0" cy="1673.5" r="5.8" fill="#D4CF22"/><circle cx="774.0" cy="1673.8" r="4.0" fill="#E9E562"/><circle cx="774.0" cy="1673.8" r="3.0" fill="#1d1a1a"/><circle cx="805.5" cy="1673.8" r="6.6" fill="#0C8432"/><circle cx="805.5" cy="1673.5" r="5.8" fill="#1AA848"/><circle cx="805.5" cy="1673.8" r="4.0" fill="#4CC876"/><circle cx="805.5" cy="1673.8" r="3.0" fill="#1d1a1a"/>
<text x="724.7" y="1679" font-size="5.6" font-weight="bold" fill="#111">瞬时</text>
<text x="784.2" y="1679" font-size="5.6" font-weight="bold" fill="#111">延时</text>
<text x="713.2" y="1689.2" font-size="5.6" fill="#222" text-anchor="middle" >3/NO</text><text x="744.5" y="1689.2" font-size="5.6" fill="#222" text-anchor="middle" >4/NC</text><text x="774.5" y="1689.2" font-size="5.6" fill="#222" text-anchor="middle" >5/NC</text><text x="806.0" y="1689.2" font-size="5.6" fill="#222" text-anchor="middle" >6/NO</text><rect x="724.6" y="1692.8" width="70.2" height="28.1" fill="#1b1414" rx="2.5" /><rect x="726.4" y="1694.6" width="66.6" height="24.5" fill="#351112" rx="1.5" /><path d="M732.0 1699 h8 v7.6 h-8 z M732.0 1706.6 h8 v7.6 h-8 z" fill="none" stroke="#571819" stroke-width="1.4"/><circle cx="742.6" cy="1714.5" r="0.8" fill="#571819"/><path d="M746.8 1699 h8 v7.6 h-8 z M746.8 1706.6 h8 v7.6 h-8 z" fill="none" stroke="#571819" stroke-width="1.4"/><circle cx="757.4" cy="1714.5" r="0.8" fill="#571819"/><path d="M761.6 1699 h8 v7.6 h-8 z M761.6 1706.6 h8 v7.6 h-8 z" fill="none" stroke="#571819" stroke-width="1.4"/><circle cx="772.2" cy="1714.5" r="0.8" fill="#571819"/><path d="M776.4 1699 h8 v7.6 h-8 z M776.4 1706.6 h8 v7.6 h-8 z" fill="none" stroke="#571819" stroke-width="1.4"/><circle cx="787.0" cy="1714.5" r="0.8" fill="#571819"/>
<text x="721.65" y="1733.4" font-size="8.3" font-weight="bold" fill="#0d0d0d">通电延时时间继电器</text>
<circle cx="750.5" cy="1743.8" r="5.8" fill="url(#gball)" stroke="#4a4a4a" stroke-width="0.5"/>
<text x="760.2" y="1746" font-size="5.6" font-weight="bold" fill="#111">工作</text>
<rect x="733.0" y="1753.4" width="16.8" height="7.2" fill="#DCDEE3" rx="3.6" stroke="#8c909b" stroke-width="0.5"/><text x="741.4" y="1759.1" font-size="5.6" fill="#888" text-anchor="middle" >–</text><rect x="773.6" y="1753.4" width="16.8" height="7.2" fill="#DCDEE3" rx="3.6" stroke="#8c909b" stroke-width="0.5"/><text x="782.0" y="1759.1" font-size="5.6" fill="#888" text-anchor="middle" >+</text><rect x="753.5" y="1753.2" width="17.0" height="7.6" fill="#F4F4F6" rx="3.8" stroke="#555" stroke-width="0.7"/>
<text x="756.8" y="1759.1" font-size="5.2" font-weight="bold" fill="#111">设置</text>
<text x="713.3" y="1775.3" font-size="5.6" fill="#222" text-anchor="middle" >2/A1</text><text x="744.2" y="1775.3" font-size="5.6" fill="#222" text-anchor="middle" >1/COM</text><text x="773.3" y="1775.3" font-size="5.6" fill="#222" text-anchor="middle" >8/COM</text><text x="805.5" y="1775.3" font-size="5.6" fill="#222" text-anchor="middle" >7/A2</text><circle cx="714.8" cy="1783.5" r="6.6" fill="#A80C20"/><circle cx="714.8" cy="1783.2" r="5.8" fill="#CF1A30"/><circle cx="714.8" cy="1783.5" r="4.0" fill="#E04A5C"/><circle cx="714.8" cy="1783.5" r="3.0" fill="#1d1a1a"/><circle cx="744.4" cy="1783.5" r="6.6" fill="#D66F1C"/><circle cx="744.4" cy="1783.2" r="5.8" fill="#EC8A38"/><circle cx="744.4" cy="1783.5" r="4.0" fill="#F4A560"/><circle cx="744.4" cy="1783.5" r="3.0" fill="#1d1a1a"/><circle cx="772.8" cy="1783.5" r="6.6" fill="#D66F1C"/><circle cx="772.8" cy="1783.2" r="5.8" fill="#EC8A38"/><circle cx="772.8" cy="1783.5" r="4.0" fill="#F4A560"/><circle cx="772.8" cy="1783.5" r="3.0" fill="#1d1a1a"/><circle cx="801.9" cy="1783.5" r="6.6" fill="#A80C20"/><circle cx="801.9" cy="1783.2" r="5.8" fill="#CF1A30"/><circle cx="801.9" cy="1783.5" r="4.0" fill="#E04A5C"/><circle cx="801.9" cy="1783.5" r="3.0" fill="#1d1a1a"/>
<text x="153" y="1831.5" font-size="29" fill="#333">中间继电器</text>
<text x="225.5" y="1866.5" font-size="29.0" fill="#333" text-anchor="middle" textLength="39.0" lengthAdjust="spacingAndGlyphs">DC</text>
<text x="330.8" y="1831.5" font-size="29" fill="#333">电机综合保</text>
<text x="374.3" y="1870.5" font-size="29" fill="#333">护器</text>
<text x="508.5" y="1831.5" font-size="29" fill="#333">电机综合保</text>
<text x="552" y="1870.5" font-size="29" fill="#333">护器</text>
<text x="686.2" y="1827.5" font-size="29" fill="#333">时间继电器</text>
<circle cx="364.7" cy="1921.5" r="4.5" fill="#1AA848"/><circle cx="390.0" cy="1921.5" r="4.5" fill="#D4CF22"/><circle cx="415.0" cy="1921.5" r="4.5" fill="#D4CF22"/><circle cx="441.0" cy="1921.5" r="4.5" fill="#1AA848"/><circle cx="541.0" cy="1921.5" r="4.5" fill="#1AA848"/><circle cx="568.0" cy="1921.5" r="4.5" fill="#D4CF22"/><circle cx="593.0" cy="1921.5" r="4.5" fill="#D4CF22"/><circle cx="618.0" cy="1921.5" r="4.5" fill="#1AA848"/><rect x="170.0" y="1918.4" width="103.0" height="1.6" fill="#E3E8E5" /><rect x="703.0" y="1918.4" width="107.0" height="1.6" fill="#DCDFE1" />
<rect x="45" y="560" width="990" height="452" rx="60" fill="#10302a" fill-opacity="0.2" filter="url(#fblur)"/>
<circle cx="600" cy="1132" r="65.5" fill="#8A55F6" fill-opacity="0.13"/><circle cx="600" cy="1133" r="17.8" fill="#8A52F6"/><path d="M594.2 1133.6 C594.5 1128.5 598 1126.3 602 1127.2 L625.8 1142 C627 1139.5 630 1138.3 632.5 1139 C634 1135.5 639 1133.5 643 1134.6 C645.5 1131.5 651 1130 655 1131.3 C657.5 1128 663 1127 666.5 1129 C669 1130.3 670.8 1132 671.8 1134.5 C680 1148 690 1165 698 1178 L673 1206 C660 1204 645 1201.5 632 1197.4 C624 1194 616.5 1187 614.5 1181 C613.3 1176.5 616 1171.5 621.7 1170.6 C624 1170.3 626 1171.5 627.2 1173 L624.9 1169.8 L611.5 1155.6 L597.5 1142.5 C595 1140 594 1137 594.2 1133.6 Z" fill="url(#gskin)"/><path d="M627.2 1173 C629 1176 630 1180 628.5 1184" fill="none" stroke="#E9A47A" stroke-width="2" stroke-linecap="round" opacity="0.75"/><path d="M632.5 1139 C631 1142 631 1145 632.5 1147.5" fill="none" stroke="#EBAA82" stroke-width="1.5" stroke-linecap="round" opacity="0.8"/><path d="M643 1134.6 C641.7 1137 641.7 1139.5 642.8 1141.5" fill="none" stroke="#EBAA82" stroke-width="1.4" stroke-linecap="round" opacity="0.7"/><path d="M655 1131.3 C654 1133.5 654 1135.5 654.8 1137.5" fill="none" stroke="#EBAA82" stroke-width="1.4" stroke-linecap="round" opacity="0.7"/><g transform="rotate(-43 701 1208.6)"><rect x="668.5" y="1183.5" width="65" height="50" rx="16" fill="url(#gcuff)"/><rect x="672" y="1186" width="58" height="20" rx="10" fill="#7FB0FA" fill-opacity="0.1"/></g>
<path d="M93 468 H988 A60 60 0 0 1 1048 528 V936 A60 60 0 0 1 988 996 H637 L587 1034.6 Q580 1040 573 1034.6 L523 996 H93 A60 60 0 0 1 33 936 V528 A60 60 0 0 1 93 468 Z" fill="#FDB706"/>
<path d="M93 480 H988 A48 48 0 0 1 1036 528 V936 A48 48 0 0 1 988 984 H634 L580 1024 L526.7 984 H93 A48 48 0 0 1 45 936 V528 A48 48 0 0 1 93 480 Z" fill="#fff"/>
<clipPath id="clipL"><rect x="60" y="492.8" width="470" height="40"/></clipPath>
<rect x="198.3" y="561.7" width="181.7" height="225.0" fill="#ECECEC" /><rect x="198.3" y="561.7" width="181.7" height="10.0" fill="#F4F4F4" /><rect x="199.0" y="562.4" width="8.0" height="18.3" fill="#3A3A3A" rx="1.0" /><rect x="248.7" y="568.0" width="8.0" height="12.7" fill="#3A3A3A" rx="1.0" /><rect x="290.0" y="568.0" width="8.0" height="12.7" fill="#3A3A3A" rx="1.0" /><rect x="339.4" y="568.0" width="8.0" height="12.7" fill="#3A3A3A" rx="1.0" /><rect x="371.8" y="562.4" width="8.0" height="18.3" fill="#3A3A3A" rx="1.0" /><rect x="208.3" y="562.7" width="18.0" height="17.0" fill="#DCDCDC" rx="4.0" /><rect x="258.3" y="562.7" width="30.0" height="17.0" fill="#DCDCDC" rx="4.0" /><rect x="348.3" y="562.7" width="22.0" height="17.0" fill="#DCDCDC" rx="4.0" /><rect x="199.0" y="769.0" width="8.5" height="15.0" fill="#3A3A3A" rx="1.0" /><rect x="246.7" y="769.0" width="8.5" height="15.0" fill="#3A3A3A" rx="1.0" /><rect x="289.3" y="769.0" width="8.5" height="15.0" fill="#3A3A3A" rx="1.0" /><rect x="339.3" y="769.0" width="8.5" height="15.0" fill="#3A3A3A" rx="1.0" /><rect x="371.8" y="769.0" width="8.5" height="15.0" fill="#3A3A3A" rx="1.0" /><rect x="214.3" y="768.0" width="26.0" height="17.0" fill="#DCDCDC" rx="3.0" /><rect x="260.3" y="768.0" width="24.0" height="17.0" fill="#DCDCDC" rx="3.0" /><rect x="348.3" y="768.0" width="20.0" height="17.0" fill="#DCDCDC" rx="3.0" /><rect x="198.3" y="620.0" width="181.7" height="105.0" fill="#252525" /><rect x="198.3" y="620.0" width="181.7" height="9.0" fill="#2E2E2E" /><rect x="204.0" y="655.0" width="37.7" height="35.0" fill="#1f1f1f" rx="1.0" stroke="#333" stroke-width="1"/><rect x="341.3" y="655.0" width="34.0" height="35.0" fill="#1f1f1f" rx="1.0" stroke="#333" stroke-width="1"/><rect x="246.3" y="655.0" width="90.0" height="35.0" fill="#161616" rx="1.0" stroke="#333" stroke-width="1"/><rect x="265.0" y="629.0" width="49.0" height="26.0" fill="#3A3A3A" rx="1.0" /><rect x="278.3" y="629.0" width="23.0" height="8.0" fill="#4a4646" /><rect x="280.3" y="637.0" width="19.0" height="14.0" fill="#1a1a1a" /><rect x="250.7" y="658.0" width="82.0" height="31.0" fill="#2F55B5" rx="1.0" /><rect x="278.3" y="666.0" width="12.0" height="23.0" fill="#3F6AD0" /><rect x="294.3" y="666.0" width="12.0" height="23.0" fill="#3F6AD0" /><rect x="290.3" y="662.0" width="4.0" height="27.0" fill="#1b2f66" /><rect x="268.3" y="672.0" width="10.0" height="8.0" fill="#3F6AD0" /><rect x="306.3" y="670.0" width="6.0" height="10.0" fill="#3F6AD0" /><rect x="352.0" y="642.7" width="13.0" height="9.0" fill="#0d0d0d" /><rect x="350.0" y="664.0" width="18.3" height="17.0" fill="#2A4CAE" /><rect x="246.7" y="690.0" width="90.0" height="28.0" fill="#2b2b2b" rx="2.0" stroke="#1a1a1a" stroke-width="1"/><rect x="255.3" y="692.0" width="73.0" height="1.2" fill="#3c3c3c" /><circle cx="216.7" cy="597.3" r="12.0" fill="#D66F1C"/><circle cx="216.7" cy="596.8" r="10.6" fill="#EC8A38"/><circle cx="216.7" cy="597.3" r="7.2" fill="#F4A560"/><circle cx="216.7" cy="597.3" r="5.4" fill="#1d1a1a"/><circle cx="216.7" cy="748.3" r="12.0" fill="#D66F1C"/><circle cx="216.7" cy="747.8" r="10.6" fill="#EC8A38"/><circle cx="216.7" cy="748.3" r="7.2" fill="#F4A560"/><circle cx="216.7" cy="748.3" r="5.4" fill="#1d1a1a"/><circle cx="263.3" cy="597.3" r="12.0" fill="#D66F1C"/><circle cx="263.3" cy="596.8" r="10.6" fill="#EC8A38"/><circle cx="263.3" cy="597.3" r="7.2" fill="#F4A560"/><circle cx="263.3" cy="597.3" r="5.4" fill="#1d1a1a"/><circle cx="263.3" cy="748.3" r="12.0" fill="#D66F1C"/><circle cx="263.3" cy="747.8" r="10.6" fill="#EC8A38"/><circle cx="263.3" cy="748.3" r="7.2" fill="#F4A560"/><circle cx="263.3" cy="748.3" r="5.4" fill="#1d1a1a"/><circle cx="309.0" cy="597.3" r="12.0" fill="#D66F1C"/><circle cx="309.0" cy="596.8" r="10.6" fill="#EC8A38"/><circle cx="309.0" cy="597.3" r="7.2" fill="#F4A560"/><circle cx="309.0" cy="597.3" r="5.4" fill="#1d1a1a"/><circle cx="309.0" cy="748.3" r="12.0" fill="#D66F1C"/><circle cx="309.0" cy="747.8" r="10.6" fill="#EC8A38"/><circle cx="309.0" cy="748.3" r="7.2" fill="#F4A560"/><circle cx="309.0" cy="748.3" r="5.4" fill="#1d1a1a"/><circle cx="360.7" cy="597.3" r="12.0" fill="#B3AE10"/><circle cx="360.7" cy="596.8" r="10.6" fill="#D4CF22"/><circle cx="360.7" cy="597.3" r="7.2" fill="#E9E562"/><circle cx="360.7" cy="597.3" r="5.4" fill="#1d1a1a"/><circle cx="360.7" cy="748.3" r="12.0" fill="#B3AE10"/><circle cx="360.7" cy="747.8" r="10.6" fill="#D4CF22"/><circle cx="360.7" cy="748.3" r="7.2" fill="#E9E562"/><circle cx="360.7" cy="748.3" r="5.4" fill="#1d1a1a"/><circle cx="238.3" cy="571.7" r="10.8" fill="#A80C20"/><circle cx="238.3" cy="571.3" r="9.5" fill="#CF1A30"/><circle cx="238.3" cy="571.7" r="6.5" fill="#E04A5C"/><circle cx="238.3" cy="571.7" r="4.9" fill="#1d1a1a"/><circle cx="325.7" cy="571.7" r="10.8" fill="#A80C20"/><circle cx="325.7" cy="571.3" r="9.5" fill="#CF1A30"/><circle cx="325.7" cy="571.7" r="6.5" fill="#E04A5C"/><circle cx="325.7" cy="571.7" r="4.9" fill="#1d1a1a"/><circle cx="328.3" cy="776.7" r="10.0" fill="#A80C20"/><circle cx="328.3" cy="776.3" r="8.8" fill="#CF1A30"/><circle cx="328.3" cy="776.7" r="6.0" fill="#E04A5C"/><circle cx="328.3" cy="776.7" r="4.5" fill="#1d1a1a"/><text x="216.7" y="618.2" font-size="11.6" fill="#3a3a3a" text-anchor="middle" textLength="19.5" lengthAdjust="spacingAndGlyphs">1/L1</text><text x="263.3" y="618.2" font-size="11.6" fill="#3a3a3a" text-anchor="middle" textLength="22.0" lengthAdjust="spacingAndGlyphs">3/L2</text><text x="309.0" y="618.2" font-size="11.6" fill="#3a3a3a" text-anchor="middle" textLength="22.7" lengthAdjust="spacingAndGlyphs">5/L3</text><text x="360.7" y="618.2" font-size="11.6" fill="#3a3a3a" text-anchor="middle" textLength="27.7" lengthAdjust="spacingAndGlyphs">21NC</text><text x="216.7" y="735.2" font-size="11.6" fill="#3a3a3a" text-anchor="middle" textLength="22.3" lengthAdjust="spacingAndGlyphs">2/T1</text><text x="263.3" y="735.2" font-size="11.6" fill="#3a3a3a" text-anchor="middle" textLength="23.3" lengthAdjust="spacingAndGlyphs">4/T2</text><text x="309.0" y="735.2" font-size="11.6" fill="#3a3a3a" text-anchor="middle" textLength="24.3" lengthAdjust="spacingAndGlyphs">6/T3</text><text x="360.7" y="735.2" font-size="11.6" fill="#3a3a3a" text-anchor="middle" textLength="29.7" lengthAdjust="spacingAndGlyphs">22NC</text><text x="242.8" y="593.7" font-size="11.0" fill="#222" text-anchor="middle" textLength="13.0" lengthAdjust="spacingAndGlyphs">A1</text><text x="333.8" y="593.7" font-size="11.0" fill="#222" text-anchor="middle" textLength="13.5" lengthAdjust="spacingAndGlyphs">A2</text><text x="330.7" y="764.3" font-size="11.0" fill="#222" text-anchor="middle" textLength="13.5" lengthAdjust="spacingAndGlyphs">A2</text>
<g clip-path="url(#clipL)"><text x="229.9" y="500.5" font-size="15.6" fill="#222">控制线圈未通电</text></g>
<g fill="#111"><text x="154.25" y="516" font-size="10.85" font-weight="bold">控制线圈触点</text><text x="219.35" y="516.00" font-size="11.07" font-weight="bold">A1</text></g>
<g fill="#111"><text x="331.5" y="516.8" font-size="10.85" font-weight="bold">控制线圈触点</text><text x="396.60" y="516.80" font-size="11.07" font-weight="bold">A2</text></g>
<circle cx="238.3" cy="513.3" r="4.2" fill="#2a2a2a"/><circle cx="325" cy="513.5" r="4.2" fill="#2a2a2a"/><line x1="238.3" y1="513.0" x2="238.3" y2="571.0" stroke="#2a2a2a" stroke-width="1.60" /><line x1="325.3" y1="513.0" x2="325.3" y2="571.0" stroke="#2a2a2a" stroke-width="1.60" /><line x1="217.3" y1="535.0" x2="217.3" y2="578.0" stroke="#F2EC21" stroke-width="1.40" /><path d="M213.1 577.0 L221.5 577.0 L217.3 586.0 Z" fill="#F2EC21"/><line x1="264.0" y1="535.0" x2="264.0" y2="578.0" stroke="#10A037" stroke-width="1.40" /><path d="M259.8 577.0 L268.2 577.0 L264.0 586.0 Z" fill="#10A037"/><line x1="309.0" y1="535.0" x2="309.0" y2="578.0" stroke="#EE1C1C" stroke-width="1.40" /><path d="M304.8 577.0 L313.2 577.0 L309.0 586.0 Z" fill="#EE1C1C"/><line x1="216.7" y1="748.0" x2="216.7" y2="797.0" stroke="#2a2a2a" stroke-width="1.50" /><path d="M212.4 796.0 L221.0 796.0 L216.7 804.0 Z" fill="#2a2a2a"/><line x1="263.3" y1="748.0" x2="263.3" y2="797.0" stroke="#2a2a2a" stroke-width="1.50" /><path d="M259.0 796.0 L267.6 796.0 L263.3 804.0 Z" fill="#2a2a2a"/><line x1="309.0" y1="748.0" x2="309.0" y2="797.0" stroke="#2a2a2a" stroke-width="1.50" /><path d="M304.7 796.0 L313.3 796.0 L309.0 804.0 Z" fill="#2a2a2a"/>
<text x="133.5" y="604.3" font-size="14.2" font-weight="500" fill="#111">主触点输入</text>
<text x="130" y="753.3" font-size="14.2" font-weight="500" fill="#111">主触点输出</text>
<polyline points="325.7,571.7 464.0,571.7 464.0,774.7 328.3,774.7" fill="none" stroke="#2a2a2a" stroke-width="1.40" /><polyline points="360.7,597.3 401.7,597.3 401.7,674.0 408.5,681.7 401.7,681.7 401.7,749.0 360.7,749.0" fill="none" stroke="#2a2a2a" stroke-width="1.40" />
<text x="417.05" y="640" font-size="10.5" font-weight="bold" fill="#222">辅</text>
<text x="417.05" y="653.9" font-size="10.5" font-weight="bold" fill="#222">助</text>
<text x="417.05" y="667.8" font-size="10.5" font-weight="bold" fill="#222">常</text>
<text x="417.05" y="681.7" font-size="10.5" font-weight="bold" fill="#222">闭</text>
<text x="417.05" y="695.6" font-size="10.5" font-weight="bold" fill="#222">触</text>
<text x="417.05" y="709.5" font-size="10.5" font-weight="bold" fill="#222">点</text>
<text x="411.19" y="720.5" font-size="8.3" fill="#333">(闭合)</text>
<g transform="translate(0.0 0.0)"><rect x="69.8" y="866.4" width="60.4" height="30.3" fill="#DCDFFB" rx="5.0" />
<text x="78.8" y="885.4" font-size="10.6" font-weight="bold" fill="#1a1a2a">电气符号</text>
<line x1="175.6" y1="837.6" x2="175.6" y2="872.0" stroke="#111" stroke-width="2.50" /><line x1="175.6" y1="889.0" x2="175.6" y2="923.3" stroke="#111" stroke-width="2.50" /><rect x="160" y="872" width="31" height="17" rx="3.5" fill="#fff" stroke="#111" stroke-width="2.2"/><text x="172.5" y="841.5" font-size="8.8" fill="#222" text-anchor="end" >A1</text><text x="172.5" y="923.0" font-size="8.8" fill="#222" text-anchor="end" >A2</text><text x="258.5" y="841.5" font-size="8.8" fill="#222" text-anchor="end" >L1</text><text x="258.5" y="923.5" font-size="8.8" fill="#222" text-anchor="end" >T1</text><line x1="262.0" y1="837.6" x2="262.0" y2="870.5" stroke="#111" stroke-width="2.50" /><path d="M262.0 855.5 A7.5 7.5 0 0 0 262.0 870.5" fill="none" stroke="#111" stroke-width="2.4"/><line x1="243.0" y1="872.0" x2="262.0" y2="891.0" stroke="#111" stroke-width="2.50" /><line x1="262.0" y1="890.5" x2="262.0" y2="923.3" stroke="#111" stroke-width="2.50" /><text x="287.5" y="841.5" font-size="8.8" fill="#222" text-anchor="end" >L2</text><text x="287.5" y="923.5" font-size="8.8" fill="#222" text-anchor="end" >T2</text><line x1="291.0" y1="837.6" x2="291.0" y2="870.5" stroke="#111" stroke-width="2.50" /><path d="M291.0 855.5 A7.5 7.5 0 0 0 291.0 870.5" fill="none" stroke="#111" stroke-width="2.4"/><line x1="272.0" y1="872.0" x2="291.0" y2="891.0" stroke="#111" stroke-width="2.50" /><line x1="291.0" y1="890.5" x2="291.0" y2="923.3" stroke="#111" stroke-width="2.50" /><text x="316.5" y="841.5" font-size="8.8" fill="#222" text-anchor="end" >L3</text><text x="316.5" y="923.5" font-size="8.8" fill="#222" text-anchor="end" >T3</text><line x1="320.0" y1="837.6" x2="320.0" y2="870.5" stroke="#111" stroke-width="2.50" /><path d="M320.0 855.5 A7.5 7.5 0 0 0 320.0 870.5" fill="none" stroke="#111" stroke-width="2.4"/><line x1="301.0" y1="872.0" x2="320.0" y2="891.0" stroke="#111" stroke-width="2.50" /><line x1="320.0" y1="890.5" x2="320.0" y2="923.3" stroke="#111" stroke-width="2.50" /><line x1="249.0" y1="879.8" x2="316.0" y2="879.8" stroke="#111" stroke-width="2.00" stroke-dasharray="9 4"/><polyline points="431.0,837.6 431.0,867.8 417.8,867.8 431.0,892.0 431.0,923.3" fill="none" stroke="#111" stroke-width="2.50" />
<text x="152" y="939.3" font-size="11" font-weight="bold" fill="#111">控制线圈</text>
<text x="153.34" y="952.3" font-size="11" font-weight="bold" fill="#111">(未通电)</text>
<text x="273.5" y="939.3" font-size="11" font-weight="bold" fill="#111">主触点</text>
<text x="274.84" y="952.3" font-size="11" font-weight="bold" fill="#111">(断开)</text>
<text x="398" y="939.3" font-size="11" font-weight="bold" fill="#111">辅助常闭触点</text>
<text x="415.84" y="952.3" font-size="11" font-weight="bold" fill="#111">(断开)</text>
<line x1="65.0" y1="956.7" x2="522.0" y2="956.7" stroke="#9a9a9a" stroke-width="1.00" stroke-dasharray="1.5 1.5"/></g>
<rect x="701.0" y="574.3" width="181.7" height="225.0" fill="#ECECEC" /><rect x="701.0" y="574.3" width="181.7" height="10.0" fill="#F4F4F4" /><rect x="701.7" y="575.0" width="8.0" height="18.3" fill="#3A3A3A" rx="1.0" /><rect x="751.4" y="580.6" width="8.0" height="12.7" fill="#3A3A3A" rx="1.0" /><rect x="792.7" y="580.6" width="8.0" height="12.7" fill="#3A3A3A" rx="1.0" /><rect x="842.1" y="580.6" width="8.0" height="12.7" fill="#3A3A3A" rx="1.0" /><rect x="874.5" y="575.0" width="8.0" height="18.3" fill="#3A3A3A" rx="1.0" /><rect x="711.0" y="575.3" width="18.0" height="17.0" fill="#DCDCDC" rx="4.0" /><rect x="761.0" y="575.3" width="30.0" height="17.0" fill="#DCDCDC" rx="4.0" /><rect x="851.0" y="575.3" width="22.0" height="17.0" fill="#DCDCDC" rx="4.0" /><rect x="701.7" y="781.6" width="8.5" height="15.0" fill="#3A3A3A" rx="1.0" /><rect x="749.4" y="781.6" width="8.5" height="15.0" fill="#3A3A3A" rx="1.0" /><rect x="792.0" y="781.6" width="8.5" height="15.0" fill="#3A3A3A" rx="1.0" /><rect x="842.0" y="781.6" width="8.5" height="15.0" fill="#3A3A3A" rx="1.0" /><rect x="874.5" y="781.6" width="8.5" height="15.0" fill="#3A3A3A" rx="1.0" /><rect x="717.0" y="780.6" width="26.0" height="17.0" fill="#DCDCDC" rx="3.0" /><rect x="763.0" y="780.6" width="24.0" height="17.0" fill="#DCDCDC" rx="3.0" /><rect x="851.0" y="780.6" width="20.0" height="17.0" fill="#DCDCDC" rx="3.0" /><rect x="701.0" y="632.6" width="181.7" height="105.0" fill="#252525" /><rect x="701.0" y="632.6" width="181.7" height="9.0" fill="#2E2E2E" /><rect x="706.7" y="667.6" width="37.7" height="35.0" fill="#1f1f1f" rx="1.0" stroke="#333" stroke-width="1"/><rect x="844.0" y="667.6" width="34.0" height="35.0" fill="#1f1f1f" rx="1.0" stroke="#333" stroke-width="1"/><rect x="749.0" y="667.6" width="90.0" height="35.0" fill="#161616" rx="1.0" stroke="#333" stroke-width="1"/><rect x="767.7" y="641.6" width="49.0" height="26.0" fill="#3A3A3A" rx="1.0" /><rect x="781.0" y="641.6" width="23.0" height="8.0" fill="#4a4646" /><rect x="783.0" y="649.6" width="19.0" height="14.0" fill="#1a1a1a" /><rect x="753.4" y="670.6" width="82.0" height="31.0" fill="#2F55B5" rx="1.0" /><rect x="781.0" y="678.6" width="12.0" height="23.0" fill="#3F6AD0" /><rect x="797.0" y="678.6" width="12.0" height="23.0" fill="#3F6AD0" /><rect x="793.0" y="674.6" width="4.0" height="27.0" fill="#1b2f66" /><rect x="771.0" y="684.6" width="10.0" height="8.0" fill="#3F6AD0" /><rect x="809.0" y="682.6" width="6.0" height="10.0" fill="#3F6AD0" /><rect x="854.7" y="655.3" width="13.0" height="9.0" fill="#0d0d0d" /><rect x="852.7" y="676.6" width="18.3" height="17.0" fill="#2A4CAE" /><rect x="749.4" y="702.6" width="90.0" height="28.0" fill="#2b2b2b" rx="2.0" stroke="#1a1a1a" stroke-width="1"/><rect x="758.0" y="704.6" width="73.0" height="1.2" fill="#3c3c3c" /><circle cx="719.4" cy="609.9" r="12.0" fill="#D66F1C"/><circle cx="719.4" cy="609.4" r="10.6" fill="#EC8A38"/><circle cx="719.4" cy="609.9" r="7.2" fill="#F4A560"/><circle cx="719.4" cy="609.9" r="5.4" fill="#1d1a1a"/><circle cx="719.4" cy="760.9" r="12.0" fill="#D66F1C"/><circle cx="719.4" cy="760.4" r="10.6" fill="#EC8A38"/><circle cx="719.4" cy="760.9" r="7.2" fill="#F4A560"/><circle cx="719.4" cy="760.9" r="5.4" fill="#1d1a1a"/><circle cx="766.0" cy="609.9" r="12.0" fill="#D66F1C"/><circle cx="766.0" cy="609.4" r="10.6" fill="#EC8A38"/><circle cx="766.0" cy="609.9" r="7.2" fill="#F4A560"/><circle cx="766.0" cy="609.9" r="5.4" fill="#1d1a1a"/><circle cx="766.0" cy="760.9" r="12.0" fill="#D66F1C"/><circle cx="766.0" cy="760.4" r="10.6" fill="#EC8A38"/><circle cx="766.0" cy="760.9" r="7.2" fill="#F4A560"/><circle cx="766.0" cy="760.9" r="5.4" fill="#1d1a1a"/><circle cx="811.7" cy="609.9" r="12.0" fill="#D66F1C"/><circle cx="811.7" cy="609.4" r="10.6" fill="#EC8A38"/><circle cx="811.7" cy="609.9" r="7.2" fill="#F4A560"/><circle cx="811.7" cy="609.9" r="5.4" fill="#1d1a1a"/><circle cx="811.7" cy="760.9" r="12.0" fill="#D66F1C"/><circle cx="811.7" cy="760.4" r="10.6" fill="#EC8A38"/><circle cx="811.7" cy="760.9" r="7.2" fill="#F4A560"/><circle cx="811.7" cy="760.9" r="5.4" fill="#1d1a1a"/><circle cx="863.4" cy="609.9" r="12.0" fill="#B3AE10"/><circle cx="863.4" cy="609.4" r="10.6" fill="#D4CF22"/><circle cx="863.4" cy="609.9" r="7.2" fill="#E9E562"/><circle cx="863.4" cy="609.9" r="5.4" fill="#1d1a1a"/><circle cx="863.4" cy="760.9" r="12.0" fill="#B3AE10"/><circle cx="863.4" cy="760.4" r="10.6" fill="#D4CF22"/><circle cx="863.4" cy="760.9" r="7.2" fill="#E9E562"/><circle cx="863.4" cy="760.9" r="5.4" fill="#1d1a1a"/><circle cx="741.0" cy="584.3" r="10.8" fill="#A80C20"/><circle cx="741.0" cy="583.9" r="9.5" fill="#CF1A30"/><circle cx="741.0" cy="584.3" r="6.5" fill="#E04A5C"/><circle cx="741.0" cy="584.3" r="4.9" fill="#C9142A"/><circle cx="828.4" cy="584.3" r="10.8" fill="#A80C20"/><circle cx="828.4" cy="583.9" r="9.5" fill="#CF1A30"/><circle cx="828.4" cy="584.3" r="6.5" fill="#E04A5C"/><circle cx="828.4" cy="584.3" r="4.9" fill="#C9142A"/><circle cx="831.0" cy="789.3" r="10.0" fill="#A80C20"/><circle cx="831.0" cy="788.9" r="8.8" fill="#CF1A30"/><circle cx="831.0" cy="789.3" r="6.0" fill="#E04A5C"/><circle cx="831.0" cy="789.3" r="4.5" fill="#4a0a12"/><text x="719.4" y="630.8" font-size="11.6" fill="#3a3a3a" text-anchor="middle" textLength="19.5" lengthAdjust="spacingAndGlyphs">1/L1</text><text x="766.0" y="630.8" font-size="11.6" fill="#3a3a3a" text-anchor="middle" textLength="22.0" lengthAdjust="spacingAndGlyphs">3/L2</text><text x="811.7" y="630.8" font-size="11.6" fill="#3a3a3a" text-anchor="middle" textLength="22.7" lengthAdjust="spacingAndGlyphs">5/L3</text><text x="863.4" y="630.8" font-size="11.6" fill="#3a3a3a" text-anchor="middle" textLength="27.7" lengthAdjust="spacingAndGlyphs">21NC</text><text x="719.4" y="747.8" font-size="11.6" fill="#3a3a3a" text-anchor="middle" textLength="22.3" lengthAdjust="spacingAndGlyphs">2/T1</text><text x="766.0" y="747.8" font-size="11.6" fill="#3a3a3a" text-anchor="middle" textLength="23.3" lengthAdjust="spacingAndGlyphs">4/T2</text><text x="811.7" y="747.8" font-size="11.6" fill="#3a3a3a" text-anchor="middle" textLength="24.3" lengthAdjust="spacingAndGlyphs">6/T3</text><text x="863.4" y="747.8" font-size="11.6" fill="#3a3a3a" text-anchor="middle" textLength="29.7" lengthAdjust="spacingAndGlyphs">22NC</text><text x="745.5" y="606.3" font-size="11.0" fill="#222" text-anchor="middle" textLength="13.0" lengthAdjust="spacingAndGlyphs">A1</text><text x="836.5" y="606.3" font-size="11.0" fill="#222" text-anchor="middle" textLength="13.5" lengthAdjust="spacingAndGlyphs">A2</text><text x="833.4" y="776.9" font-size="11.0" fill="#222" text-anchor="middle" textLength="13.5" lengthAdjust="spacingAndGlyphs">A2</text>
<text x="739.2" y="506.2" font-size="15.6" fill="#B5202B">控制线圈通电</text>
<line x1="739.3" y1="522.8" x2="827.7" y2="522.8" stroke="#C4161C" stroke-width="1.30" /><circle cx="783.3" cy="520.7" r="9.6" fill="#fff" stroke="#222" stroke-width="1.4"/><path d="M776.8 522.5 C779 512.5 781.5 512.5 783.3 520.7 C785.1 529 787.6 529 789.8 519" fill="none" stroke="#222" stroke-width="1.4"/><circle cx="739.3" cy="525" r="4.4" fill="#C4161C"/><circle cx="827.7" cy="525" r="4.4" fill="#C4161C"/><line x1="739.3" y1="525.0" x2="739.3" y2="583.0" stroke="#C4161C" stroke-width="1.40" /><line x1="827.7" y1="525.0" x2="827.7" y2="583.0" stroke="#C4161C" stroke-width="1.40" />
<g fill="#111"><text x="651.75" y="535.6" font-size="10.85" font-weight="bold">控制线圈触点</text><text x="716.85" y="535.60" font-size="11.07" font-weight="bold">A1</text></g>
<g fill="#111"><text x="836" y="535.6" font-size="10.85" font-weight="bold">控制线圈触点</text><text x="901.10" y="535.60" font-size="11.07" font-weight="bold">A2</text></g>
<line x1="719.0" y1="548.0" x2="719.0" y2="590.0" stroke="#F2EC21" stroke-width="1.40" /><path d="M714.8 589.0 L723.2 589.0 L719.0 598.0 Z" fill="#F2EC21"/><line x1="765.5" y1="548.0" x2="765.5" y2="590.0" stroke="#10A037" stroke-width="1.40" /><path d="M761.3 589.0 L769.7 589.0 L765.5 598.0 Z" fill="#10A037"/><line x1="810.0" y1="548.0" x2="810.0" y2="590.0" stroke="#EE1C1C" stroke-width="1.40" /><path d="M805.8 589.0 L814.2 589.0 L810.0 598.0 Z" fill="#EE1C1C"/><line x1="719.0" y1="761.0" x2="719.0" y2="808.5" stroke="#F2EC21" stroke-width="1.40" /><path d="M714.8 807.5 L723.2 807.5 L719.0 816.5 Z" fill="#F2EC21"/><line x1="765.5" y1="761.0" x2="765.5" y2="808.5" stroke="#10A037" stroke-width="1.40" /><path d="M761.3 807.5 L769.7 807.5 L765.5 816.5 Z" fill="#10A037"/><line x1="810.0" y1="761.0" x2="810.0" y2="808.5" stroke="#EE1C1C" stroke-width="1.40" /><path d="M805.8 807.5 L814.2 807.5 L810.0 816.5 Z" fill="#EE1C1C"/>
<text x="634.5" y="617.3" font-size="14.2" font-weight="500" fill="#111">主触点输入</text>
<text x="631" y="766.3" font-size="14.2" font-weight="500" fill="#111">主触点输出</text>
<polyline points="827.7,584.0 953.3,584.0 953.3,787.3 829.3,787.3" fill="none" stroke="#C4161C" stroke-width="1.30" /><polyline points="862.3,610.0 900.0,610.0 900.0,683.3 908.3,694.0" fill="none" stroke="#2a2a2a" stroke-width="1.40" /><polyline points="907.0,696.7 900.0,696.7 900.0,762.3 862.3,762.3" fill="none" stroke="#2a2a2a" stroke-width="1.40" />
<text x="914.75" y="650.5" font-size="10.5" font-weight="bold" fill="#222">辅</text>
<text x="914.75" y="664.4" font-size="10.5" font-weight="bold" fill="#222">助</text>
<text x="914.75" y="678.3" font-size="10.5" font-weight="bold" fill="#222">常</text>
<text x="914.75" y="692.2" font-size="10.5" font-weight="bold" fill="#222">闭</text>
<text x="914.75" y="706.1" font-size="10.5" font-weight="bold" fill="#222">触</text>
<text x="914.75" y="720" font-size="10.5" font-weight="bold" fill="#222">点</text>
<text x="908.89" y="731.5" font-size="8.3" fill="#333">(断开)</text>
<circle cx="792.3" cy="683.3" r="37.3" fill="#F9525B"/>
<text x="767.8" y="692.3" font-size="24.5" font-weight="bold" fill="#fff">吸合</text>
<g transform="translate(519.5 6.2)"><rect x="63.5" y="866.4" width="60.4" height="30.3" fill="#DCDFFB" rx="5.0" />
<text x="72.5" y="885.4" font-size="10.6" font-weight="bold" fill="#1a1a2a">电气符号</text>
<line x1="175.6" y1="837.6" x2="175.6" y2="872.0" stroke="#111" stroke-width="2.50" /><line x1="175.6" y1="889.0" x2="175.6" y2="923.3" stroke="#111" stroke-width="2.50" /><rect x="160" y="872" width="31" height="17" rx="3.5" fill="#fff" stroke="#DA121C" stroke-width="2.2"/><text x="172.5" y="841.5" font-size="8.8" fill="#222" text-anchor="end" >A1</text><text x="172.5" y="923.0" font-size="8.8" fill="#222" text-anchor="end" >A2</text><text x="258.5" y="841.5" font-size="8.8" fill="#222" text-anchor="end" >L1</text><text x="258.5" y="923.5" font-size="8.8" fill="#222" text-anchor="end" >T1</text><line x1="262.0" y1="837.6" x2="262.0" y2="872.0" stroke="#111" stroke-width="2.50" /><path d="M262.0 857 A7.5 7.5 0 0 0 262.0 872" fill="none" stroke="#111" stroke-width="2.4"/><line x1="253.0" y1="866.0" x2="262.0" y2="891.0" stroke="#111" stroke-width="2.50" /><line x1="262.0" y1="890.5" x2="262.0" y2="923.3" stroke="#111" stroke-width="2.50" /><text x="287.5" y="841.5" font-size="8.8" fill="#222" text-anchor="end" >L2</text><text x="287.5" y="923.5" font-size="8.8" fill="#222" text-anchor="end" >T2</text><line x1="291.0" y1="837.6" x2="291.0" y2="872.0" stroke="#111" stroke-width="2.50" /><path d="M291.0 857 A7.5 7.5 0 0 0 291.0 872" fill="none" stroke="#111" stroke-width="2.4"/><line x1="282.0" y1="866.0" x2="291.0" y2="891.0" stroke="#111" stroke-width="2.50" /><line x1="291.0" y1="890.5" x2="291.0" y2="923.3" stroke="#111" stroke-width="2.50" /><text x="316.5" y="841.5" font-size="8.8" fill="#222" text-anchor="end" >L3</text><text x="316.5" y="923.5" font-size="8.8" fill="#222" text-anchor="end" >T3</text><line x1="320.0" y1="837.6" x2="320.0" y2="872.0" stroke="#111" stroke-width="2.50" /><path d="M320.0 857 A7.5 7.5 0 0 0 320.0 872" fill="none" stroke="#111" stroke-width="2.4"/><line x1="311.0" y1="866.0" x2="320.0" y2="891.0" stroke="#111" stroke-width="2.50" /><line x1="320.0" y1="890.5" x2="320.0" y2="923.3" stroke="#111" stroke-width="2.50" /><line x1="254.0" y1="881.0" x2="318.0" y2="881.0" stroke="#111" stroke-width="2.00" stroke-dasharray="9 4"/><polyline points="431.0,837.6 431.0,870.0 418.0,870.0" fill="none" stroke="#111" stroke-width="2.50" /><polyline points="411.0,876.5 431.0,891.0 431.0,923.3" fill="none" stroke="#111" stroke-width="2.50" />
<text x="152" y="939.3" font-size="11" font-weight="bold" fill="#111">控制线圈</text>
<text x="158.84" y="952.3" font-size="11" font-weight="bold" fill="#111">(通电)</text>
<text x="273.5" y="939.3" font-size="11" font-weight="bold" fill="#111">主触点</text>
<text x="274.84" y="952.3" font-size="11" font-weight="bold" fill="#111">(闭合)</text>
<text x="398" y="939.3" font-size="11" font-weight="bold" fill="#111">辅助常闭触点</text>
<text x="415.84" y="952.3" font-size="11" font-weight="bold" fill="#111">(断开)</text>
<line x1="48.5" y1="956.7" x2="488.5" y2="956.7" stroke="#9a9a9a" stroke-width="1.00" stroke-dasharray="1.5 1.5"/></g>
<path d="M93 480 H988 A48 48 0 0 1 1036 528 V936 A48 48 0 0 1 988 984 H93 A48 48 0 0 1 45 936 V528 A48 48 0 0 1 93 480 Z" fill="url(#wm)"/>
</svg>
</body></html>
